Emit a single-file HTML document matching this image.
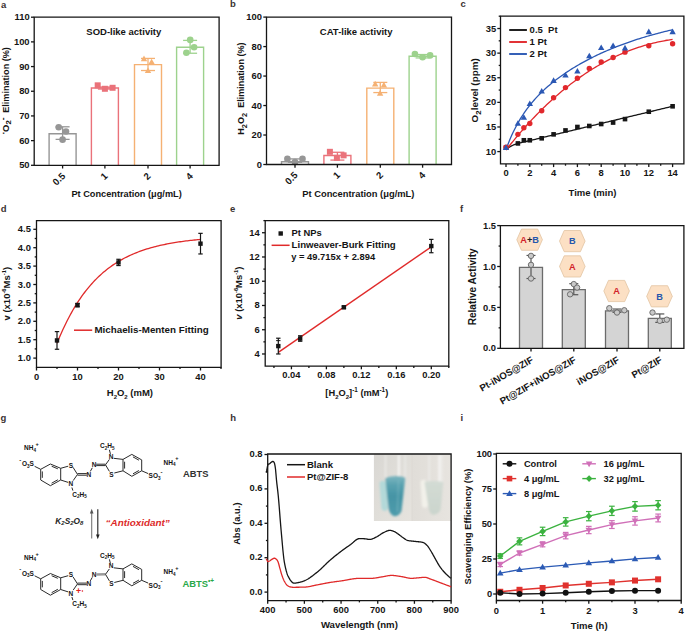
<!DOCTYPE html>
<html><head><meta charset="utf-8"><style>
html,body{margin:0;padding:0;background:#fff;width:685px;height:632px;overflow:hidden;}
svg{display:block;}
text{font-family:"Liberation Sans",sans-serif;}
</style></head><body>
<svg width="685" height="632" viewBox="0 0 685 632">
<rect width="685" height="632" fill="#fff"/>
<text x="1.00" y="7.50" font-size="9.5" font-weight="bold" text-anchor="start" fill="#3a3232" >a</text>
<text x="230.00" y="7.00" font-size="9.5" font-weight="bold" text-anchor="start" fill="#3a3232" >b</text>
<text x="460.50" y="7.20" font-size="9.5" font-weight="bold" text-anchor="start" fill="#3a3232" >c</text>
<text x="0.80" y="212.00" font-size="9.5" font-weight="bold" text-anchor="start" fill="#3a3232" >d</text>
<text x="230.00" y="212.20" font-size="9.5" font-weight="bold" text-anchor="start" fill="#3a3232" >e</text>
<text x="460.00" y="212.00" font-size="9.5" font-weight="bold" text-anchor="start" fill="#3a3232" >f</text>
<text x="0.50" y="421.00" font-size="9.5" font-weight="bold" text-anchor="start" fill="#3a3232" >g</text>
<text x="230.20" y="421.20" font-size="9.5" font-weight="bold" text-anchor="start" fill="#3a3232" >h</text>
<text x="460.60" y="421.00" font-size="9.5" font-weight="bold" text-anchor="start" fill="#3a3232" >i</text>
<line x1="31.00" y1="165.30" x2="34.20" y2="165.30" stroke="#151515" stroke-width="1.3" />
<text x="29.60" y="168.40" font-size="9.4" font-weight="bold" text-anchor="end" fill="#151515" >50</text>
<line x1="31.00" y1="140.62" x2="34.20" y2="140.62" stroke="#151515" stroke-width="1.3" />
<text x="29.60" y="143.72" font-size="9.4" font-weight="bold" text-anchor="end" fill="#151515" >60</text>
<line x1="31.00" y1="115.93" x2="34.20" y2="115.93" stroke="#151515" stroke-width="1.3" />
<text x="29.60" y="119.03" font-size="9.4" font-weight="bold" text-anchor="end" fill="#151515" >70</text>
<line x1="31.00" y1="91.25" x2="34.20" y2="91.25" stroke="#151515" stroke-width="1.3" />
<text x="29.60" y="94.35" font-size="9.4" font-weight="bold" text-anchor="end" fill="#151515" >80</text>
<line x1="31.00" y1="66.57" x2="34.20" y2="66.57" stroke="#151515" stroke-width="1.3" />
<text x="29.60" y="69.67" font-size="9.4" font-weight="bold" text-anchor="end" fill="#151515" >90</text>
<line x1="31.00" y1="41.88" x2="34.20" y2="41.88" stroke="#151515" stroke-width="1.3" />
<text x="29.60" y="44.98" font-size="9.4" font-weight="bold" text-anchor="end" fill="#151515" >100</text>
<line x1="31.00" y1="17.20" x2="34.20" y2="17.20" stroke="#151515" stroke-width="1.3" />
<text x="29.60" y="20.30" font-size="9.4" font-weight="bold" text-anchor="end" fill="#151515" >110</text>
<path d="M49.10,165.30 V133.71 H76.10 V165.30" fill="#fff" stroke="#969696" stroke-width="1.4"/>
<path d="M91.40,165.30 V88.04 H118.40 V165.30" fill="#fff" stroke="#ea727a" stroke-width="1.4"/>
<path d="M134.50,165.30 V64.59 H161.50 V165.30" fill="#fff" stroke="#f5b173" stroke-width="1.4"/>
<path d="M176.60,165.30 V47.31 H203.60 V165.30" fill="#fff" stroke="#9dd28d" stroke-width="1.4"/>
<line x1="62.60" y1="139.38" x2="62.60" y2="126.79" stroke="#969696" stroke-width="1.3" />
<line x1="55.60" y1="139.38" x2="69.60" y2="139.38" stroke="#969696" stroke-width="1.3" />
<line x1="55.60" y1="126.79" x2="69.60" y2="126.79" stroke="#969696" stroke-width="1.3" />
<circle cx="58.70" cy="127.29" r="3.30" fill="#969696" stroke="none" stroke-width="0"/>
<circle cx="66.00" cy="131.48" r="3.30" fill="#969696" stroke="none" stroke-width="0"/>
<circle cx="62.60" cy="139.63" r="3.30" fill="#969696" stroke="none" stroke-width="0"/>
<line x1="104.90" y1="89.03" x2="104.90" y2="87.05" stroke="#ea727a" stroke-width="1.3" />
<line x1="97.90" y1="89.03" x2="111.90" y2="89.03" stroke="#ea727a" stroke-width="1.3" />
<line x1="97.90" y1="87.05" x2="111.90" y2="87.05" stroke="#ea727a" stroke-width="1.3" />
<rect x="94.70" y="82.33" width="6.00" height="6.00" fill="#ea727a"/>
<rect x="101.90" y="85.78" width="6.00" height="6.00" fill="#ea727a"/>
<rect x="109.60" y="84.79" width="6.00" height="6.00" fill="#ea727a"/>
<line x1="148.00" y1="70.52" x2="148.00" y2="58.42" stroke="#f5b173" stroke-width="1.3" />
<line x1="141.00" y1="70.52" x2="155.00" y2="70.52" stroke="#f5b173" stroke-width="1.3" />
<line x1="141.00" y1="58.42" x2="155.00" y2="58.42" stroke="#f5b173" stroke-width="1.3" />
<polygon points="144.00,55.57 140.80,61.14 147.20,61.14" fill="#f5b173"/>
<polygon points="151.60,58.78 148.40,64.35 154.80,64.35" fill="#f5b173"/>
<polygon points="148.00,67.55 144.80,73.11 151.20,73.11" fill="#f5b173"/>
<line x1="190.10" y1="53.24" x2="190.10" y2="40.40" stroke="#9dd28d" stroke-width="1.3" />
<line x1="183.10" y1="53.24" x2="197.10" y2="53.24" stroke="#9dd28d" stroke-width="1.3" />
<line x1="183.10" y1="40.40" x2="197.10" y2="40.40" stroke="#9dd28d" stroke-width="1.3" />
<circle cx="190.20" cy="39.91" r="3.30" fill="#9dd28d" stroke="none" stroke-width="0"/>
<circle cx="194.10" cy="47.19" r="3.30" fill="#9dd28d" stroke="none" stroke-width="0"/>
<circle cx="186.40" cy="52.74" r="3.30" fill="#9dd28d" stroke="none" stroke-width="0"/>
<path d="M34.20,17.20 H219.10 V165.30 H34.20 Z" fill="none" stroke="#151515" stroke-width="1.3"/>
<line x1="62.60" y1="165.30" x2="62.60" y2="168.50" stroke="#151515" stroke-width="1.3" />
<text transform="translate(66.00,176.60) rotate(-45)" font-size="9.6" font-weight="bold" text-anchor="end" fill="#151515">0.5</text>
<line x1="104.90" y1="165.30" x2="104.90" y2="168.50" stroke="#151515" stroke-width="1.3" />
<text transform="translate(108.30,176.60) rotate(-45)" font-size="9.6" font-weight="bold" text-anchor="end" fill="#151515">1</text>
<line x1="148.00" y1="165.30" x2="148.00" y2="168.50" stroke="#151515" stroke-width="1.3" />
<text transform="translate(151.40,176.60) rotate(-45)" font-size="9.6" font-weight="bold" text-anchor="end" fill="#151515">2</text>
<line x1="190.10" y1="165.30" x2="190.10" y2="168.50" stroke="#151515" stroke-width="1.3" />
<text transform="translate(193.50,176.60) rotate(-45)" font-size="9.6" font-weight="bold" text-anchor="end" fill="#151515">4</text>
<text x="126.60" y="196.60" font-size="9.2" font-weight="bold" text-anchor="middle" fill="#151515" >Pt Concentration (μg/mL)</text>
<text x="123.80" y="34.90" font-size="9.5" font-weight="bold" text-anchor="middle" fill="#151515" >SOD-like activity</text>
<text transform="translate(9.2,134.4) rotate(-90)" font-size="9.5" font-weight="bold" fill="#151515"><tspan x="0" y="-2.0">·</tspan><tspan x="2.4" y="0">O</tspan><tspan font-size="7.8" y="2.0">2</tspan><tspan font-size="8.5" x="14.2" y="-3.6">-</tspan><tspan x="21.6" y="0" font-size="9.1">Elimination (%)</tspan></text>
<line x1="263.30" y1="164.50" x2="266.50" y2="164.50" stroke="#151515" stroke-width="1.3" />
<text x="261.90" y="167.60" font-size="9.4" font-weight="bold" text-anchor="end" fill="#151515" >0</text>
<line x1="263.30" y1="135.02" x2="266.50" y2="135.02" stroke="#151515" stroke-width="1.3" />
<text x="261.90" y="138.12" font-size="9.4" font-weight="bold" text-anchor="end" fill="#151515" >20</text>
<line x1="263.30" y1="105.54" x2="266.50" y2="105.54" stroke="#151515" stroke-width="1.3" />
<text x="261.90" y="108.64" font-size="9.4" font-weight="bold" text-anchor="end" fill="#151515" >40</text>
<line x1="263.30" y1="76.06" x2="266.50" y2="76.06" stroke="#151515" stroke-width="1.3" />
<text x="261.90" y="79.16" font-size="9.4" font-weight="bold" text-anchor="end" fill="#151515" >60</text>
<line x1="263.30" y1="46.58" x2="266.50" y2="46.58" stroke="#151515" stroke-width="1.3" />
<text x="261.90" y="49.68" font-size="9.4" font-weight="bold" text-anchor="end" fill="#151515" >80</text>
<line x1="263.30" y1="17.10" x2="266.50" y2="17.10" stroke="#151515" stroke-width="1.3" />
<text x="261.90" y="20.20" font-size="9.4" font-weight="bold" text-anchor="end" fill="#151515" >100</text>
<path d="M281.50,164.50 V161.70 H308.50 V164.50" fill="#fff" stroke="#969696" stroke-width="1.4"/>
<path d="M323.90,164.50 V155.51 H350.90 V164.50" fill="#fff" stroke="#ea727a" stroke-width="1.4"/>
<path d="M366.80,164.50 V88.15 H393.80 V164.50" fill="#fff" stroke="#f5b173" stroke-width="1.4"/>
<path d="M409.10,164.50 V56.31 H436.10 V164.50" fill="#fff" stroke="#9dd28d" stroke-width="1.4"/>
<line x1="295.00" y1="162.29" x2="295.00" y2="158.90" stroke="#969696" stroke-width="1.3" />
<line x1="288.00" y1="162.29" x2="302.00" y2="162.29" stroke="#969696" stroke-width="1.3" />
<line x1="288.00" y1="158.90" x2="302.00" y2="158.90" stroke="#969696" stroke-width="1.3" />
<circle cx="287.40" cy="158.90" r="3.30" fill="#969696" stroke="none" stroke-width="0"/>
<circle cx="295.00" cy="161.99" r="3.30" fill="#969696" stroke="none" stroke-width="0"/>
<circle cx="302.50" cy="158.90" r="3.30" fill="#969696" stroke="none" stroke-width="0"/>
<line x1="337.40" y1="160.08" x2="337.40" y2="152.27" stroke="#ea727a" stroke-width="1.3" />
<line x1="330.40" y1="160.08" x2="344.40" y2="160.08" stroke="#ea727a" stroke-width="1.3" />
<line x1="330.40" y1="152.27" x2="344.40" y2="152.27" stroke="#ea727a" stroke-width="1.3" />
<rect x="326.90" y="148.82" width="6.00" height="6.00" fill="#ea727a"/>
<rect x="333.90" y="154.87" width="6.00" height="6.00" fill="#ea727a"/>
<rect x="340.60" y="152.36" width="6.00" height="6.00" fill="#ea727a"/>
<line x1="380.30" y1="92.57" x2="380.30" y2="82.40" stroke="#f5b173" stroke-width="1.3" />
<line x1="373.30" y1="92.57" x2="387.30" y2="92.57" stroke="#f5b173" stroke-width="1.3" />
<line x1="373.30" y1="82.40" x2="387.30" y2="82.40" stroke="#f5b173" stroke-width="1.3" />
<polygon points="375.20,80.83 372.00,86.39 378.40,86.39" fill="#f5b173"/>
<polygon points="383.90,81.86 380.70,87.43 387.10,87.43" fill="#f5b173"/>
<polygon points="380.10,90.11 376.90,95.68 383.30,95.68" fill="#f5b173"/>
<line x1="422.60" y1="57.93" x2="422.60" y2="54.54" stroke="#9dd28d" stroke-width="1.3" />
<line x1="415.60" y1="57.93" x2="429.60" y2="57.93" stroke="#9dd28d" stroke-width="1.3" />
<line x1="415.60" y1="54.54" x2="429.60" y2="54.54" stroke="#9dd28d" stroke-width="1.3" />
<circle cx="414.90" cy="53.95" r="3.30" fill="#9dd28d" stroke="none" stroke-width="0"/>
<circle cx="422.60" cy="57.19" r="3.30" fill="#9dd28d" stroke="none" stroke-width="0"/>
<circle cx="430.10" cy="55.42" r="3.30" fill="#9dd28d" stroke="none" stroke-width="0"/>
<path d="M266.50,17.10 H451.50 V164.50 H266.50 Z" fill="none" stroke="#151515" stroke-width="1.3"/>
<line x1="295.00" y1="164.50" x2="295.00" y2="167.70" stroke="#151515" stroke-width="1.3" />
<text transform="translate(298.40,175.80) rotate(-45)" font-size="9.6" font-weight="bold" text-anchor="end" fill="#151515">0.5</text>
<line x1="337.40" y1="164.50" x2="337.40" y2="167.70" stroke="#151515" stroke-width="1.3" />
<text transform="translate(340.80,175.80) rotate(-45)" font-size="9.6" font-weight="bold" text-anchor="end" fill="#151515">1</text>
<line x1="380.30" y1="164.50" x2="380.30" y2="167.70" stroke="#151515" stroke-width="1.3" />
<text transform="translate(383.70,175.80) rotate(-45)" font-size="9.6" font-weight="bold" text-anchor="end" fill="#151515">2</text>
<line x1="422.60" y1="164.50" x2="422.60" y2="167.70" stroke="#151515" stroke-width="1.3" />
<text transform="translate(426.00,175.80) rotate(-45)" font-size="9.6" font-weight="bold" text-anchor="end" fill="#151515">4</text>
<text x="358.30" y="196.50" font-size="9.35" font-weight="bold" text-anchor="middle" fill="#151515" >Pt Concentration (μg/mL)</text>
<text x="356.20" y="34.90" font-size="9.5" font-weight="bold" text-anchor="middle" fill="#151515" >CAT-like activity</text>
<text transform="translate(244.3,88.6) rotate(-90)" font-size="9.05" font-weight="bold" text-anchor="middle" fill="#151515">H<tspan font-size="7.4" dy="2.2">2</tspan><tspan dy="-2.2">O</tspan><tspan font-size="7.4" dy="2.2">2</tspan><tspan dy="-2.2">&#160; Elimination (%)</tspan></text>
<path d="M500.50,16.20 H683.90 V163.90 H500.50 Z" fill="none" stroke="#151515" stroke-width="1.3"/>
<line x1="497.30" y1="151.59" x2="500.50" y2="151.59" stroke="#151515" stroke-width="1.3" />
<text x="496.20" y="154.69" font-size="9.4" font-weight="bold" text-anchor="end" fill="#151515" >10</text>
<line x1="498.70" y1="139.28" x2="500.50" y2="139.28" stroke="#151515" stroke-width="1.3" />
<line x1="497.30" y1="126.98" x2="500.50" y2="126.98" stroke="#151515" stroke-width="1.3" />
<text x="496.20" y="130.08" font-size="9.4" font-weight="bold" text-anchor="end" fill="#151515" >15</text>
<line x1="498.70" y1="114.67" x2="500.50" y2="114.67" stroke="#151515" stroke-width="1.3" />
<line x1="497.30" y1="102.36" x2="500.50" y2="102.36" stroke="#151515" stroke-width="1.3" />
<text x="496.20" y="105.46" font-size="9.4" font-weight="bold" text-anchor="end" fill="#151515" >20</text>
<line x1="498.70" y1="90.06" x2="500.50" y2="90.06" stroke="#151515" stroke-width="1.3" />
<line x1="497.30" y1="77.75" x2="500.50" y2="77.75" stroke="#151515" stroke-width="1.3" />
<text x="496.20" y="80.85" font-size="9.4" font-weight="bold" text-anchor="end" fill="#151515" >25</text>
<line x1="498.70" y1="65.44" x2="500.50" y2="65.44" stroke="#151515" stroke-width="1.3" />
<line x1="497.30" y1="53.13" x2="500.50" y2="53.13" stroke="#151515" stroke-width="1.3" />
<text x="496.20" y="56.23" font-size="9.4" font-weight="bold" text-anchor="end" fill="#151515" >30</text>
<line x1="498.70" y1="40.83" x2="500.50" y2="40.83" stroke="#151515" stroke-width="1.3" />
<line x1="497.30" y1="28.52" x2="500.50" y2="28.52" stroke="#151515" stroke-width="1.3" />
<text x="496.20" y="31.62" font-size="9.4" font-weight="bold" text-anchor="end" fill="#151515" >35</text>
<line x1="498.70" y1="16.21" x2="500.50" y2="16.21" stroke="#151515" stroke-width="1.3" />
<line x1="506.00" y1="163.90" x2="506.00" y2="167.10" stroke="#151515" stroke-width="1.3" />
<text x="506.00" y="175.90" font-size="9.4" font-weight="bold" text-anchor="middle" fill="#151515" >0</text>
<line x1="517.90" y1="163.90" x2="517.90" y2="165.70" stroke="#151515" stroke-width="1.3" />
<line x1="529.80" y1="163.90" x2="529.80" y2="167.10" stroke="#151515" stroke-width="1.3" />
<text x="529.80" y="175.90" font-size="9.4" font-weight="bold" text-anchor="middle" fill="#151515" >2</text>
<line x1="541.70" y1="163.90" x2="541.70" y2="165.70" stroke="#151515" stroke-width="1.3" />
<line x1="553.60" y1="163.90" x2="553.60" y2="167.10" stroke="#151515" stroke-width="1.3" />
<text x="553.60" y="175.90" font-size="9.4" font-weight="bold" text-anchor="middle" fill="#151515" >4</text>
<line x1="565.50" y1="163.90" x2="565.50" y2="165.70" stroke="#151515" stroke-width="1.3" />
<line x1="577.40" y1="163.90" x2="577.40" y2="167.10" stroke="#151515" stroke-width="1.3" />
<text x="577.40" y="175.90" font-size="9.4" font-weight="bold" text-anchor="middle" fill="#151515" >6</text>
<line x1="589.30" y1="163.90" x2="589.30" y2="165.70" stroke="#151515" stroke-width="1.3" />
<line x1="601.20" y1="163.90" x2="601.20" y2="167.10" stroke="#151515" stroke-width="1.3" />
<text x="601.20" y="175.90" font-size="9.4" font-weight="bold" text-anchor="middle" fill="#151515" >8</text>
<line x1="613.10" y1="163.90" x2="613.10" y2="165.70" stroke="#151515" stroke-width="1.3" />
<line x1="625.00" y1="163.90" x2="625.00" y2="167.10" stroke="#151515" stroke-width="1.3" />
<text x="625.00" y="175.90" font-size="9.4" font-weight="bold" text-anchor="middle" fill="#151515" >10</text>
<line x1="636.90" y1="163.90" x2="636.90" y2="165.70" stroke="#151515" stroke-width="1.3" />
<line x1="648.80" y1="163.90" x2="648.80" y2="167.10" stroke="#151515" stroke-width="1.3" />
<text x="648.80" y="175.90" font-size="9.4" font-weight="bold" text-anchor="middle" fill="#151515" >12</text>
<line x1="660.70" y1="163.90" x2="660.70" y2="165.70" stroke="#151515" stroke-width="1.3" />
<line x1="672.60" y1="163.90" x2="672.60" y2="167.10" stroke="#151515" stroke-width="1.3" />
<text x="672.60" y="175.90" font-size="9.4" font-weight="bold" text-anchor="middle" fill="#151515" >14</text>
<polyline points="506.00,149.38 507.40,148.37 508.80,147.43 510.20,146.59 511.60,145.85 513.00,145.22 514.40,144.65 515.80,144.14 517.20,143.68 518.60,143.26 520.00,142.88 521.40,142.53 522.80,142.19 524.20,141.87 525.60,141.56 527.00,141.25 528.40,140.94 529.80,140.61 531.20,140.27 532.60,139.94 534.00,139.60 535.40,139.26 536.80,138.93 538.20,138.59 539.60,138.25 541.00,137.92 542.40,137.58 543.80,137.24 545.20,136.91 546.60,136.57 548.00,136.23 549.40,135.90 550.80,135.56 552.20,135.23 553.60,134.89 555.00,134.55 556.40,134.22 557.80,133.88 559.20,133.54 560.60,133.21 562.00,132.87 563.40,132.53 564.80,132.20 566.20,131.86 567.60,131.52 569.00,131.19 570.40,130.85 571.80,130.51 573.20,130.18 574.60,129.84 576.00,129.50 577.40,129.17 578.80,128.83 580.20,128.50 581.60,128.16 583.00,127.82 584.40,127.49 585.80,127.15 587.20,126.81 588.60,126.48 590.00,126.14 591.40,125.80 592.80,125.47 594.20,125.13 595.60,124.79 597.00,124.46 598.40,124.12 599.80,123.78 601.20,123.45 602.60,123.11 604.00,122.77 605.40,122.44 606.80,122.10 608.20,121.77 609.60,121.43 611.00,121.09 612.40,120.76 613.80,120.42 615.20,120.08 616.60,119.75 618.00,119.41 619.40,119.07 620.80,118.74 622.20,118.40 623.60,118.06 625.00,117.73 626.40,117.39 627.80,117.05 629.20,116.72 630.60,116.38 632.00,116.04 633.40,115.71 634.80,115.37 636.20,115.04 637.60,114.70 639.00,114.36 640.40,114.03 641.80,113.69 643.20,113.35 644.60,113.02 646.00,112.68 647.40,112.34 648.80,112.01 650.20,111.67 651.60,111.33 653.00,111.00 654.40,110.66 655.80,110.32 657.20,109.99 658.60,109.65 660.00,109.31 661.40,108.98 662.80,108.64 664.20,108.31 665.60,107.97 667.00,107.63 668.40,107.30 669.80,106.96 671.20,106.62 672.60,106.29" fill="none" stroke="#161616" stroke-width="1.3" stroke-linejoin="round" />
<polyline points="506.00,150.06 507.40,148.27 508.80,146.50 510.20,144.75 511.60,143.01 513.00,141.29 514.40,139.58 515.80,137.90 517.20,136.22 518.60,134.57 520.00,132.93 521.40,131.31 522.80,129.70 524.20,128.11 525.60,126.54 527.00,124.98 528.40,123.44 529.80,121.91 531.20,120.40 532.60,118.91 534.00,117.43 535.40,115.97 536.80,114.52 538.20,113.09 539.60,111.67 541.00,110.27 542.40,108.89 543.80,107.52 545.20,106.16 546.60,104.83 548.00,103.50 549.40,102.19 550.80,100.90 552.20,99.62 553.60,98.36 555.00,97.11 556.40,95.88 557.80,94.66 559.20,93.45 560.60,92.26 562.00,91.09 563.40,89.93 564.80,88.78 566.20,87.65 567.60,86.53 569.00,85.43 570.40,84.34 571.80,83.27 573.20,82.21 574.60,81.16 576.00,80.13 577.40,79.11 578.80,78.11 580.20,77.12 581.60,76.14 583.00,75.18 584.40,74.23 585.80,73.29 587.20,72.37 588.60,71.46 590.00,70.57 591.40,69.69 592.80,68.82 594.20,67.96 595.60,67.12 597.00,66.29 598.40,65.48 599.80,64.67 601.20,63.88 602.60,63.11 604.00,62.34 605.40,61.59 606.80,60.85 608.20,60.13 609.60,59.41 611.00,58.71 612.40,58.02 613.80,57.35 615.20,56.68 616.60,56.03 618.00,55.39 619.40,54.77 620.80,54.15 622.20,53.55 623.60,52.96 625.00,52.38 626.40,51.81 627.80,51.26 629.20,50.71 630.60,50.18 632.00,49.66 633.40,49.15 634.80,48.65 636.20,48.17 637.60,47.69 639.00,47.23 640.40,46.78 641.80,46.34 643.20,45.91 644.60,45.49 646.00,45.09 647.40,44.69 648.80,44.30 650.20,43.93 651.60,43.57 653.00,43.21 654.40,42.87 655.80,42.54 657.20,42.22 658.60,41.91 660.00,41.61 661.40,41.32 662.80,41.04 664.20,40.77 665.60,40.51 667.00,40.26 668.40,40.03 669.80,39.80 671.20,39.58 672.60,39.37" fill="none" stroke="#e1282c" stroke-width="1.3" stroke-linejoin="round" />
<polyline points="506.00,149.52 507.40,145.74 508.80,142.17 510.20,138.80 511.60,135.60 513.00,132.56 514.40,129.68 515.80,126.93 517.20,124.32 518.60,121.83 520.00,119.44 521.40,117.16 522.80,114.98 524.20,112.88 525.60,110.87 527.00,108.93 528.40,107.07 529.80,105.27 531.20,103.53 532.60,101.86 534.00,100.23 535.40,98.66 536.80,97.14 538.20,95.66 539.60,94.22 541.00,92.82 542.40,91.46 543.80,90.14 545.20,88.85 546.60,87.59 548.00,86.36 549.40,85.15 550.80,83.98 552.20,82.83 553.60,81.71 555.00,80.61 556.40,79.53 557.80,78.47 559.20,77.44 560.60,76.42 562.00,75.42 563.40,74.44 564.80,73.48 566.20,72.54 567.60,71.61 569.00,70.70 570.40,69.80 571.80,68.92 573.20,68.05 574.60,67.20 576.00,66.36 577.40,65.53 578.80,64.71 580.20,63.91 581.60,63.12 583.00,62.35 584.40,61.58 585.80,60.83 587.20,60.08 588.60,59.35 590.00,58.63 591.40,57.92 592.80,57.22 594.20,56.52 595.60,55.84 597.00,55.17 598.40,54.51 599.80,53.86 601.20,53.21 602.60,52.58 604.00,51.95 605.40,51.34 606.80,50.73 608.20,50.13 609.60,49.53 611.00,48.95 612.40,48.37 613.80,47.81 615.20,47.25 616.60,46.69 618.00,46.15 619.40,45.61 620.80,45.08 622.20,44.56 623.60,44.04 625.00,43.53 626.40,43.03 627.80,42.53 629.20,42.04 630.60,41.56 632.00,41.08 633.40,40.62 634.80,40.15 636.20,39.69 637.60,39.24 639.00,38.80 640.40,38.36 641.80,37.93 643.20,37.50 644.60,37.08 646.00,36.66 647.40,36.25 648.80,35.85 650.20,35.45 651.60,35.05 653.00,34.66 654.40,34.28 655.80,33.90 657.20,33.53 658.60,33.16 660.00,32.79 661.40,32.44 662.80,32.08 664.20,31.73 665.60,31.39 667.00,31.05 668.40,30.71 669.80,30.38 671.20,30.05 672.60,29.73" fill="none" stroke="#2b58b4" stroke-width="1.3" stroke-linejoin="round" />
<rect x="503.70" y="145.35" width="4.60" height="4.60" fill="#161616"/>
<rect x="515.60" y="141.12" width="4.60" height="4.60" fill="#161616"/>
<rect x="521.55" y="137.97" width="4.60" height="4.60" fill="#161616"/>
<rect x="527.50" y="137.97" width="4.60" height="4.60" fill="#161616"/>
<rect x="539.40" y="136.00" width="4.60" height="4.60" fill="#161616"/>
<rect x="551.30" y="132.06" width="4.60" height="4.60" fill="#161616"/>
<rect x="563.20" y="128.12" width="4.60" height="4.60" fill="#161616"/>
<rect x="575.10" y="124.68" width="4.60" height="4.60" fill="#161616"/>
<rect x="587.00" y="123.69" width="4.60" height="4.60" fill="#161616"/>
<rect x="598.90" y="121.72" width="4.60" height="4.60" fill="#161616"/>
<rect x="610.80" y="120.25" width="4.60" height="4.60" fill="#161616"/>
<rect x="622.70" y="116.80" width="4.60" height="4.60" fill="#161616"/>
<rect x="646.50" y="109.42" width="4.60" height="4.60" fill="#161616"/>
<rect x="670.30" y="104.00" width="4.60" height="4.60" fill="#161616"/>
<circle cx="506.00" cy="147.16" r="2.70" fill="#e1282c" stroke="none" stroke-width="0"/>
<circle cx="517.90" cy="134.36" r="2.70" fill="#e1282c" stroke="none" stroke-width="0"/>
<circle cx="523.85" cy="127.77" r="2.70" fill="#e1282c" stroke="none" stroke-width="0"/>
<circle cx="529.80" cy="123.53" r="2.70" fill="#e1282c" stroke="none" stroke-width="0"/>
<circle cx="541.70" cy="110.73" r="2.70" fill="#e1282c" stroke="none" stroke-width="0"/>
<circle cx="553.60" cy="97.69" r="2.70" fill="#e1282c" stroke="none" stroke-width="0"/>
<circle cx="565.50" cy="87.59" r="2.70" fill="#e1282c" stroke="none" stroke-width="0"/>
<circle cx="577.40" cy="78.24" r="2.70" fill="#e1282c" stroke="none" stroke-width="0"/>
<circle cx="589.30" cy="68.39" r="2.70" fill="#e1282c" stroke="none" stroke-width="0"/>
<circle cx="601.20" cy="61.99" r="2.70" fill="#e1282c" stroke="none" stroke-width="0"/>
<circle cx="613.10" cy="57.56" r="2.70" fill="#e1282c" stroke="none" stroke-width="0"/>
<circle cx="625.00" cy="52.15" r="2.70" fill="#e1282c" stroke="none" stroke-width="0"/>
<circle cx="648.80" cy="45.75" r="2.70" fill="#e1282c" stroke="none" stroke-width="0"/>
<circle cx="672.60" cy="43.78" r="2.70" fill="#e1282c" stroke="none" stroke-width="0"/>
<polygon points="506.00,144.31 502.80,149.88 509.20,149.88" fill="#2b58b4"/>
<polygon points="517.90,120.19 514.70,125.76 521.10,125.76" fill="#2b58b4"/>
<polygon points="523.85,114.28 520.65,119.85 527.05,119.85" fill="#2b58b4"/>
<polygon points="529.80,100.50 526.60,106.07 533.00,106.07" fill="#2b58b4"/>
<polygon points="541.70,87.94 538.50,93.51 544.90,93.51" fill="#2b58b4"/>
<polygon points="553.60,77.36 550.40,82.93 556.80,82.93" fill="#2b58b4"/>
<polygon points="565.50,71.95 562.30,77.51 568.70,77.51" fill="#2b58b4"/>
<polygon points="577.40,68.01 574.20,73.57 580.60,73.57" fill="#2b58b4"/>
<polygon points="589.30,52.75 586.10,58.31 592.50,58.31" fill="#2b58b4"/>
<polygon points="601.20,44.38 598.00,49.94 604.40,49.94" fill="#2b58b4"/>
<polygon points="613.10,42.41 609.90,47.98 616.30,47.98" fill="#2b58b4"/>
<polygon points="625.00,44.87 621.80,50.44 628.20,50.44" fill="#2b58b4"/>
<polygon points="648.80,28.62 645.60,34.19 652.00,34.19" fill="#2b58b4"/>
<polygon points="672.60,28.62 669.40,34.19 675.80,34.19" fill="#2b58b4"/>
<line x1="509.20" y1="30.00" x2="526.90" y2="30.00" stroke="#161616" stroke-width="1.9" />
<text x="529.60" y="33.30" font-size="9.5" font-weight="bold" text-anchor="start" fill="#151515" >0.5&#160; Pt</text>
<line x1="509.20" y1="42.00" x2="526.90" y2="42.00" stroke="#e1282c" stroke-width="1.9" />
<text x="529.60" y="45.30" font-size="9.5" font-weight="bold" text-anchor="start" fill="#151515" >1 Pt</text>
<line x1="509.20" y1="54.00" x2="526.90" y2="54.00" stroke="#2b58b4" stroke-width="1.9" />
<text x="529.60" y="57.30" font-size="9.5" font-weight="bold" text-anchor="start" fill="#151515" >2 Pt</text>
<text x="592.50" y="196.40" font-size="9.5" font-weight="bold" text-anchor="middle" fill="#151515" >Time (min)</text>
<text transform="translate(478.3,90.3) rotate(-90)" font-size="9.9" font-weight="bold" text-anchor="middle" fill="#151515">O<tspan font-size="7.8" dy="2.2">2</tspan><tspan dy="-2.2">level (ppm)</tspan></text>
<path d="M36.50,220.70 H221.10 V367.30 H36.50 Z" fill="none" stroke="#151515" stroke-width="1.3"/>
<line x1="33.30" y1="358.10" x2="36.50" y2="358.10" stroke="#151515" stroke-width="1.3" />
<text x="30.90" y="361.20" font-size="9.4" font-weight="bold" text-anchor="end" fill="#151515" >1.0</text>
<line x1="34.70" y1="348.90" x2="36.50" y2="348.90" stroke="#151515" stroke-width="1.3" />
<line x1="33.30" y1="339.70" x2="36.50" y2="339.70" stroke="#151515" stroke-width="1.3" />
<text x="30.90" y="342.80" font-size="9.4" font-weight="bold" text-anchor="end" fill="#151515" >1.5</text>
<line x1="34.70" y1="330.50" x2="36.50" y2="330.50" stroke="#151515" stroke-width="1.3" />
<line x1="33.30" y1="321.30" x2="36.50" y2="321.30" stroke="#151515" stroke-width="1.3" />
<text x="30.90" y="324.40" font-size="9.4" font-weight="bold" text-anchor="end" fill="#151515" >2.0</text>
<line x1="34.70" y1="312.10" x2="36.50" y2="312.10" stroke="#151515" stroke-width="1.3" />
<line x1="33.30" y1="302.90" x2="36.50" y2="302.90" stroke="#151515" stroke-width="1.3" />
<text x="30.90" y="306.00" font-size="9.4" font-weight="bold" text-anchor="end" fill="#151515" >2.5</text>
<line x1="34.70" y1="293.70" x2="36.50" y2="293.70" stroke="#151515" stroke-width="1.3" />
<line x1="33.30" y1="284.50" x2="36.50" y2="284.50" stroke="#151515" stroke-width="1.3" />
<text x="30.90" y="287.60" font-size="9.4" font-weight="bold" text-anchor="end" fill="#151515" >3.0</text>
<line x1="34.70" y1="275.30" x2="36.50" y2="275.30" stroke="#151515" stroke-width="1.3" />
<line x1="33.30" y1="266.10" x2="36.50" y2="266.10" stroke="#151515" stroke-width="1.3" />
<text x="30.90" y="269.20" font-size="9.4" font-weight="bold" text-anchor="end" fill="#151515" >3.5</text>
<line x1="34.70" y1="256.90" x2="36.50" y2="256.90" stroke="#151515" stroke-width="1.3" />
<line x1="33.30" y1="247.70" x2="36.50" y2="247.70" stroke="#151515" stroke-width="1.3" />
<text x="30.90" y="250.80" font-size="9.4" font-weight="bold" text-anchor="end" fill="#151515" >4.0</text>
<line x1="34.70" y1="238.50" x2="36.50" y2="238.50" stroke="#151515" stroke-width="1.3" />
<line x1="33.30" y1="229.30" x2="36.50" y2="229.30" stroke="#151515" stroke-width="1.3" />
<text x="30.90" y="232.40" font-size="9.4" font-weight="bold" text-anchor="end" fill="#151515" >4.5</text>
<line x1="36.50" y1="367.30" x2="36.50" y2="370.50" stroke="#151515" stroke-width="1.3" />
<text x="36.50" y="379.70" font-size="9.4" font-weight="bold" text-anchor="middle" fill="#151515" >0</text>
<line x1="57.00" y1="367.30" x2="57.00" y2="369.10" stroke="#151515" stroke-width="1.3" />
<line x1="77.50" y1="367.30" x2="77.50" y2="370.50" stroke="#151515" stroke-width="1.3" />
<text x="77.50" y="379.70" font-size="9.4" font-weight="bold" text-anchor="middle" fill="#151515" >10</text>
<line x1="98.00" y1="367.30" x2="98.00" y2="369.10" stroke="#151515" stroke-width="1.3" />
<line x1="118.50" y1="367.30" x2="118.50" y2="370.50" stroke="#151515" stroke-width="1.3" />
<text x="118.50" y="379.70" font-size="9.4" font-weight="bold" text-anchor="middle" fill="#151515" >20</text>
<line x1="139.00" y1="367.30" x2="139.00" y2="369.10" stroke="#151515" stroke-width="1.3" />
<line x1="159.50" y1="367.30" x2="159.50" y2="370.50" stroke="#151515" stroke-width="1.3" />
<text x="159.50" y="379.70" font-size="9.4" font-weight="bold" text-anchor="middle" fill="#151515" >30</text>
<line x1="180.00" y1="367.30" x2="180.00" y2="369.10" stroke="#151515" stroke-width="1.3" />
<line x1="200.50" y1="367.30" x2="200.50" y2="370.50" stroke="#151515" stroke-width="1.3" />
<text x="200.50" y="379.70" font-size="9.4" font-weight="bold" text-anchor="middle" fill="#151515" >40</text>
<line x1="221.00" y1="367.30" x2="221.00" y2="369.10" stroke="#151515" stroke-width="1.3" />
<polyline points="57.00,343.35 58.45,339.79 59.90,336.34 61.35,333.01 62.80,329.80 64.25,326.68 65.70,323.67 67.15,320.76 68.60,317.95 70.05,315.23 71.49,312.60 72.94,310.05 74.39,307.59 75.84,305.21 77.29,302.91 78.74,300.69 80.19,298.54 81.64,296.46 83.09,294.44 84.54,292.50 85.99,290.62 87.44,288.80 88.89,287.04 90.34,285.34 91.79,283.70 93.24,282.11 94.69,280.57 96.14,279.08 97.59,277.64 99.04,276.25 100.48,274.91 101.93,273.61 103.38,272.35 104.83,271.14 106.28,269.96 107.73,268.83 109.18,267.73 110.63,266.67 112.08,265.64 113.53,264.64 114.98,263.68 116.43,262.75 117.88,261.86 119.33,260.99 120.78,260.15 122.23,259.34 123.68,258.55 125.13,257.79 126.58,257.06 128.03,256.35 129.47,255.66 130.92,255.00 132.37,254.35 133.82,253.73 135.27,253.13 136.72,252.55 138.17,251.99 139.62,251.45 141.07,250.92 142.52,250.42 143.97,249.92 145.42,249.45 146.87,248.99 148.32,248.55 149.77,248.12 151.22,247.70 152.67,247.30 154.12,246.91 155.57,246.54 157.02,246.18 158.46,245.83 159.91,245.49 161.36,245.16 162.81,244.84 164.26,244.53 165.71,244.24 167.16,243.95 168.61,243.67 170.06,243.41 171.51,243.15 172.96,242.90 174.41,242.65 175.86,242.42 177.31,242.19 178.76,241.97 180.21,241.76 181.66,241.56 183.11,241.36 184.56,241.17 186.01,240.98 187.45,240.80 188.90,240.63 190.35,240.46 191.80,240.30 193.25,240.14 194.70,239.99 196.15,239.84 197.60,239.70 199.05,239.57 200.50,239.43" fill="none" stroke="#e02a2a" stroke-width="1.3" stroke-linejoin="round" />
<line x1="57.00" y1="349.27" x2="57.00" y2="331.60" stroke="#151515" stroke-width="1.2" />
<line x1="54.80" y1="349.27" x2="59.20" y2="349.27" stroke="#151515" stroke-width="1.2" />
<line x1="54.80" y1="331.60" x2="59.20" y2="331.60" stroke="#151515" stroke-width="1.2" />
<rect x="54.80" y="338.24" width="4.40" height="4.40" fill="#151515"/>
<line x1="77.50" y1="306.76" x2="77.50" y2="303.45" stroke="#151515" stroke-width="1.2" />
<line x1="75.30" y1="306.76" x2="79.70" y2="306.76" stroke="#151515" stroke-width="1.2" />
<line x1="75.30" y1="303.45" x2="79.70" y2="303.45" stroke="#151515" stroke-width="1.2" />
<rect x="75.30" y="302.91" width="4.40" height="4.40" fill="#151515"/>
<line x1="118.50" y1="265.55" x2="118.50" y2="259.29" stroke="#151515" stroke-width="1.2" />
<line x1="116.30" y1="265.55" x2="120.70" y2="265.55" stroke="#151515" stroke-width="1.2" />
<line x1="116.30" y1="259.29" x2="120.70" y2="259.29" stroke="#151515" stroke-width="1.2" />
<rect x="116.30" y="260.22" width="4.40" height="4.40" fill="#151515"/>
<line x1="200.50" y1="253.96" x2="200.50" y2="233.35" stroke="#151515" stroke-width="1.2" />
<line x1="198.30" y1="253.96" x2="202.70" y2="253.96" stroke="#151515" stroke-width="1.2" />
<line x1="198.30" y1="233.35" x2="202.70" y2="233.35" stroke="#151515" stroke-width="1.2" />
<rect x="198.30" y="241.45" width="4.40" height="4.40" fill="#151515"/>
<line x1="74.00" y1="330.20" x2="92.20" y2="330.20" stroke="#e02a2a" stroke-width="1.5" />
<text x="94.40" y="333.40" font-size="9.8" font-weight="bold" text-anchor="start" fill="#151515" >Michaelis-Menten Fitting</text>
<text x="129.90" y="395.80" font-size="9.5" font-weight="bold" text-anchor="middle" fill="#151515" >H<tspan font-size="6.0" dy="3.3">2</tspan><tspan dy="-3.3">O</tspan><tspan font-size="6.0" dy="3.3">2</tspan><tspan dy="-3.3"> (mM)</tspan></text>
<text transform="translate(10.0,293.7) rotate(-90)" font-size="9.5" font-weight="bold" text-anchor="middle" fill="#151515">v (x10<tspan font-size="5.8" dy="-3.6">-6</tspan><tspan dy="3.6">Ms</tspan><tspan font-size="5.8" dy="-3.6">-1</tspan><tspan dy="3.6">)</tspan></text>
<path d="M265.20,220.60 H448.80 V366.10 H265.20 Z" fill="none" stroke="#151515" stroke-width="1.3"/>
<line x1="262.00" y1="353.98" x2="265.20" y2="353.98" stroke="#151515" stroke-width="1.3" />
<text x="259.80" y="356.98" font-size="9.4" font-weight="bold" text-anchor="end" fill="#151515" >4</text>
<line x1="263.40" y1="341.85" x2="265.20" y2="341.85" stroke="#151515" stroke-width="1.3" />
<line x1="262.00" y1="329.73" x2="265.20" y2="329.73" stroke="#151515" stroke-width="1.3" />
<text x="259.80" y="332.73" font-size="9.4" font-weight="bold" text-anchor="end" fill="#151515" >6</text>
<line x1="263.40" y1="317.60" x2="265.20" y2="317.60" stroke="#151515" stroke-width="1.3" />
<line x1="262.00" y1="305.48" x2="265.20" y2="305.48" stroke="#151515" stroke-width="1.3" />
<text x="259.80" y="308.48" font-size="9.4" font-weight="bold" text-anchor="end" fill="#151515" >8</text>
<line x1="263.40" y1="293.35" x2="265.20" y2="293.35" stroke="#151515" stroke-width="1.3" />
<line x1="262.00" y1="281.23" x2="265.20" y2="281.23" stroke="#151515" stroke-width="1.3" />
<text x="259.80" y="284.23" font-size="9.4" font-weight="bold" text-anchor="end" fill="#151515" >10</text>
<line x1="263.40" y1="269.10" x2="265.20" y2="269.10" stroke="#151515" stroke-width="1.3" />
<line x1="262.00" y1="256.98" x2="265.20" y2="256.98" stroke="#151515" stroke-width="1.3" />
<text x="259.80" y="259.98" font-size="9.4" font-weight="bold" text-anchor="end" fill="#151515" >12</text>
<line x1="263.40" y1="244.85" x2="265.20" y2="244.85" stroke="#151515" stroke-width="1.3" />
<line x1="262.00" y1="232.73" x2="265.20" y2="232.73" stroke="#151515" stroke-width="1.3" />
<text x="259.80" y="235.73" font-size="9.4" font-weight="bold" text-anchor="end" fill="#151515" >14</text>
<line x1="263.40" y1="220.60" x2="265.20" y2="220.60" stroke="#151515" stroke-width="1.3" />
<line x1="273.94" y1="366.10" x2="273.94" y2="367.90" stroke="#151515" stroke-width="1.3" />
<line x1="291.43" y1="366.10" x2="291.43" y2="369.30" stroke="#151515" stroke-width="1.3" />
<text x="291.43" y="377.60" font-size="9.4" font-weight="bold" text-anchor="middle" fill="#151515" >0.04</text>
<line x1="308.91" y1="366.10" x2="308.91" y2="367.90" stroke="#151515" stroke-width="1.3" />
<line x1="326.39" y1="366.10" x2="326.39" y2="369.30" stroke="#151515" stroke-width="1.3" />
<text x="326.39" y="377.60" font-size="9.4" font-weight="bold" text-anchor="middle" fill="#151515" >0.08</text>
<line x1="343.88" y1="366.10" x2="343.88" y2="367.90" stroke="#151515" stroke-width="1.3" />
<line x1="361.36" y1="366.10" x2="361.36" y2="369.30" stroke="#151515" stroke-width="1.3" />
<text x="361.36" y="377.60" font-size="9.4" font-weight="bold" text-anchor="middle" fill="#151515" >0.12</text>
<line x1="378.85" y1="366.10" x2="378.85" y2="367.90" stroke="#151515" stroke-width="1.3" />
<line x1="396.33" y1="366.10" x2="396.33" y2="369.30" stroke="#151515" stroke-width="1.3" />
<text x="396.33" y="377.60" font-size="9.4" font-weight="bold" text-anchor="middle" fill="#151515" >0.16</text>
<line x1="413.81" y1="366.10" x2="413.81" y2="367.90" stroke="#151515" stroke-width="1.3" />
<line x1="431.30" y1="366.10" x2="431.30" y2="369.30" stroke="#151515" stroke-width="1.3" />
<text x="431.30" y="377.60" font-size="9.4" font-weight="bold" text-anchor="middle" fill="#151515" >0.20</text>
<line x1="448.78" y1="366.10" x2="448.78" y2="367.90" stroke="#151515" stroke-width="1.3" />
<line x1="278.31" y1="352.32" x2="431.30" y2="246.83" stroke="#e02a2a" stroke-width="1.4" />
<line x1="278.31" y1="353.98" x2="278.31" y2="338.21" stroke="#151515" stroke-width="1.2" />
<line x1="276.11" y1="353.98" x2="280.51" y2="353.98" stroke="#151515" stroke-width="1.2" />
<line x1="276.11" y1="338.21" x2="280.51" y2="338.21" stroke="#151515" stroke-width="1.2" />
<rect x="276.11" y="343.89" width="4.40" height="4.40" fill="#151515"/>
<line x1="300.17" y1="341.24" x2="300.17" y2="335.79" stroke="#151515" stroke-width="1.2" />
<line x1="297.97" y1="341.24" x2="302.37" y2="341.24" stroke="#151515" stroke-width="1.2" />
<line x1="297.97" y1="335.79" x2="302.37" y2="335.79" stroke="#151515" stroke-width="1.2" />
<rect x="297.97" y="336.38" width="4.40" height="4.40" fill="#151515"/>
<line x1="343.88" y1="308.51" x2="343.88" y2="306.08" stroke="#151515" stroke-width="1.2" />
<line x1="341.68" y1="308.51" x2="346.08" y2="308.51" stroke="#151515" stroke-width="1.2" />
<line x1="341.68" y1="306.08" x2="346.08" y2="306.08" stroke="#151515" stroke-width="1.2" />
<rect x="341.68" y="305.09" width="4.40" height="4.40" fill="#151515"/>
<line x1="431.30" y1="252.73" x2="431.30" y2="239.39" stroke="#151515" stroke-width="1.2" />
<line x1="429.10" y1="252.73" x2="433.50" y2="252.73" stroke="#151515" stroke-width="1.2" />
<line x1="429.10" y1="239.39" x2="433.50" y2="239.39" stroke="#151515" stroke-width="1.2" />
<rect x="429.10" y="243.86" width="4.40" height="4.40" fill="#151515"/>
<line x1="276.11" y1="340.64" x2="280.51" y2="340.64" stroke="#151515" stroke-width="1.0" />
<rect x="278.50" y="231.30" width="4.40" height="4.40" fill="#151515"/>
<text x="291.60" y="236.00" font-size="9.4" font-weight="bold" text-anchor="start" fill="#151515" >Pt NPs</text>
<line x1="271.60" y1="245.30" x2="289.60" y2="245.30" stroke="#e02a2a" stroke-width="1.5" />
<text x="291.60" y="248.30" font-size="9.62" font-weight="bold" text-anchor="start" fill="#151515" >Linweaver-Burk Fitting</text>
<text x="291.20" y="259.60" font-size="9.4" font-weight="bold" text-anchor="start" fill="#151515" >y = 49.715x + 2.894</text>
<text x="356.80" y="395.60" font-size="9.3" font-weight="bold" text-anchor="middle" fill="#151515" >[H<tspan font-size="6.0" dy="3.2">2</tspan><tspan dy="-3.2">O</tspan><tspan font-size="6.0" dy="3.2">2</tspan><tspan dy="-3.2">]</tspan><tspan font-size="6.3" dy="-3.6">-1</tspan><tspan dy="3.6"> (mM</tspan><tspan font-size="6.3" dy="-3.6">-1</tspan><tspan dy="3.6">)</tspan></text>
<text transform="translate(241.5,293.1) rotate(-90)" font-size="9.4" font-weight="bold" text-anchor="middle" fill="#151515"><tspan font-style="italic">v</tspan> (x10<tspan font-size="5.8" dy="-3.6">-6</tspan><tspan dy="3.6">Ms</tspan><tspan font-size="5.8" dy="-3.6">-1</tspan><tspan dy="3.6">)</tspan></text>
<line x1="497.20" y1="348.30" x2="500.40" y2="348.30" stroke="#151515" stroke-width="1.3" />
<text x="496.10" y="351.40" font-size="9.4" font-weight="bold" text-anchor="end" fill="#151515" >0.0</text>
<line x1="498.60" y1="327.85" x2="500.40" y2="327.85" stroke="#151515" stroke-width="1.3" />
<line x1="497.20" y1="307.40" x2="500.40" y2="307.40" stroke="#151515" stroke-width="1.3" />
<text x="496.10" y="310.50" font-size="9.4" font-weight="bold" text-anchor="end" fill="#151515" >0.5</text>
<line x1="498.60" y1="286.95" x2="500.40" y2="286.95" stroke="#151515" stroke-width="1.3" />
<line x1="497.20" y1="266.50" x2="500.40" y2="266.50" stroke="#151515" stroke-width="1.3" />
<text x="496.10" y="269.60" font-size="9.4" font-weight="bold" text-anchor="end" fill="#151515" >1.0</text>
<line x1="498.60" y1="246.05" x2="500.40" y2="246.05" stroke="#151515" stroke-width="1.3" />
<line x1="497.20" y1="225.60" x2="500.40" y2="225.60" stroke="#151515" stroke-width="1.3" />
<text x="496.10" y="228.70" font-size="9.4" font-weight="bold" text-anchor="end" fill="#151515" >1.5</text>
<path d="M519.50,348.30 V267.32 H542.50 V348.30 Z" fill="#d4d4d4" stroke="none"/>
<path d="M519.50,348.30 V267.32 H542.50 V348.30" fill="none" stroke="#6b6b6b" stroke-width="1.3"/>
<path d="M562.30,348.30 V289.65 H585.30 V348.30 Z" fill="#d4d4d4" stroke="none"/>
<path d="M562.30,348.30 V289.65 H585.30 V348.30" fill="none" stroke="#6b6b6b" stroke-width="1.3"/>
<path d="M605.50,348.30 V310.92 H628.50 V348.30 Z" fill="#d4d4d4" stroke="none"/>
<path d="M605.50,348.30 V310.92 H628.50 V348.30" fill="none" stroke="#6b6b6b" stroke-width="1.3"/>
<path d="M648.30,348.30 V318.36 H671.30 V348.30 Z" fill="#d4d4d4" stroke="none"/>
<path d="M648.30,348.30 V318.36 H671.30 V348.30" fill="none" stroke="#6b6b6b" stroke-width="1.3"/>
<line x1="531.00" y1="255.46" x2="531.00" y2="278.52" stroke="#555" stroke-width="1.2" />
<line x1="526.50" y1="255.46" x2="535.50" y2="255.46" stroke="#555" stroke-width="1.2" />
<line x1="526.50" y1="278.52" x2="535.50" y2="278.52" stroke="#555" stroke-width="1.2" />
<circle cx="531.00" cy="255.87" r="2.70" fill="#c9c9c9" stroke="#6e6e6e" stroke-width="1.0"/>
<circle cx="531.00" cy="264.86" r="2.70" fill="#c9c9c9" stroke="#6e6e6e" stroke-width="1.0"/>
<circle cx="531.00" cy="278.52" r="2.70" fill="#c9c9c9" stroke="#6e6e6e" stroke-width="1.0"/>
<line x1="573.80" y1="283.68" x2="573.80" y2="294.72" stroke="#555" stroke-width="1.2" />
<line x1="569.30" y1="283.68" x2="578.30" y2="283.68" stroke="#555" stroke-width="1.2" />
<line x1="569.30" y1="294.72" x2="578.30" y2="294.72" stroke="#555" stroke-width="1.2" />
<circle cx="573.80" cy="284.09" r="2.70" fill="#c9c9c9" stroke="#6e6e6e" stroke-width="1.0"/>
<circle cx="577.10" cy="287.60" r="2.70" fill="#c9c9c9" stroke="#6e6e6e" stroke-width="1.0"/>
<circle cx="570.10" cy="294.31" r="2.70" fill="#c9c9c9" stroke="#6e6e6e" stroke-width="1.0"/>
<line x1="617.00" y1="309.04" x2="617.00" y2="312.31" stroke="#555" stroke-width="1.2" />
<line x1="612.50" y1="309.04" x2="621.50" y2="309.04" stroke="#555" stroke-width="1.2" />
<line x1="612.50" y1="312.31" x2="621.50" y2="312.31" stroke="#555" stroke-width="1.2" />
<circle cx="609.30" cy="308.22" r="2.70" fill="#c9c9c9" stroke="#6e6e6e" stroke-width="1.0"/>
<circle cx="617.00" cy="312.55" r="2.70" fill="#c9c9c9" stroke="#6e6e6e" stroke-width="1.0"/>
<circle cx="624.30" cy="310.26" r="2.70" fill="#c9c9c9" stroke="#6e6e6e" stroke-width="1.0"/>
<line x1="659.80" y1="313.94" x2="659.80" y2="322.37" stroke="#555" stroke-width="1.2" />
<line x1="655.30" y1="313.94" x2="664.30" y2="313.94" stroke="#555" stroke-width="1.2" />
<line x1="655.30" y1="322.37" x2="664.30" y2="322.37" stroke="#555" stroke-width="1.2" />
<circle cx="652.50" cy="312.55" r="2.70" fill="#c9c9c9" stroke="#6e6e6e" stroke-width="1.0"/>
<circle cx="659.80" cy="320.82" r="2.70" fill="#c9c9c9" stroke="#6e6e6e" stroke-width="1.0"/>
<circle cx="666.80" cy="319.67" r="2.70" fill="#c9c9c9" stroke="#6e6e6e" stroke-width="1.0"/>
<path d="M500.40,225.70 H683.90 V348.30 H500.40 Z" fill="none" stroke="#151515" stroke-width="1.3"/>
<line x1="531.00" y1="348.30" x2="531.00" y2="351.50" stroke="#151515" stroke-width="1.3" />
<line x1="573.80" y1="348.30" x2="573.80" y2="351.50" stroke="#151515" stroke-width="1.3" />
<line x1="617.00" y1="348.30" x2="617.00" y2="351.50" stroke="#151515" stroke-width="1.3" />
<line x1="659.80" y1="348.30" x2="659.80" y2="351.50" stroke="#151515" stroke-width="1.3" />
<polygon points="516.80,239.70 521.50,229.10 537.70,229.10 542.40,239.70 537.70,250.30 521.50,250.30" fill="#fce0c4" stroke="#e2c4a2" stroke-width="0.8"/>
<text x="529.6" y="243.1" font-size="9.2" font-weight="bold" text-anchor="middle"><tspan fill="#d21f2b">A</tspan><tspan fill="#222">+</tspan><tspan fill="#2457ad">B</tspan></text>
<polygon points="559.50,241.10 564.20,230.50 580.40,230.50 585.10,241.10 580.40,251.70 564.20,251.70" fill="#fce0c4" stroke="#e2c4a2" stroke-width="0.8"/>
<text x="572.3" y="244.4" font-size="9.2" font-weight="bold" text-anchor="middle" fill="#2457ad">B</text>
<polygon points="559.50,266.40 564.20,255.80 580.40,255.80 585.10,266.40 580.40,277.00 564.20,277.00" fill="#fce0c4" stroke="#e2c4a2" stroke-width="0.8"/>
<text x="572.3" y="269.7" font-size="9.2" font-weight="bold" text-anchor="middle" fill="#d21f2b">A</text>
<polygon points="603.80,291.00 608.50,280.40 624.70,280.40 629.40,291.00 624.70,301.60 608.50,301.60" fill="#fce0c4" stroke="#e2c4a2" stroke-width="0.8"/>
<text x="616.6" y="294.3" font-size="9.2" font-weight="bold" text-anchor="middle" fill="#d21f2b">A</text>
<polygon points="646.70,296.30 651.40,285.70 667.60,285.70 672.30,296.30 667.60,306.90 651.40,306.90" fill="#fce0c4" stroke="#e2c4a2" stroke-width="0.8"/>
<text x="659.5" y="299.6" font-size="9.2" font-weight="bold" text-anchor="middle" fill="#2457ad">B</text>
<text transform="translate(534.00,361.80) rotate(-30)" font-size="9.6" font-weight="bold" text-anchor="end" fill="#151515">Pt-iNOS@ZIF</text>
<text transform="translate(576.80,361.80) rotate(-30)" font-size="9.6" font-weight="bold" text-anchor="end" fill="#151515">Pt@ZIF+iNOS@ZIF</text>
<text transform="translate(620.00,361.80) rotate(-30)" font-size="9.6" font-weight="bold" text-anchor="end" fill="#151515">iNOS@ZIF</text>
<text transform="translate(662.80,361.80) rotate(-30)" font-size="9.6" font-weight="bold" text-anchor="end" fill="#151515">Pt@ZIF</text>
<text transform="translate(476.30,286.80) rotate(-90)" font-size="10.0" font-weight="bold" text-anchor="middle" fill="#151515">Relative Activity</text>
<line x1="264.50" y1="592.10" x2="267.70" y2="592.10" stroke="#151515" stroke-width="1.3" />
<text x="262.50" y="594.60" font-size="9.4" font-weight="bold" text-anchor="end" fill="#151515" >0.0</text>
<line x1="265.90" y1="574.90" x2="267.70" y2="574.90" stroke="#151515" stroke-width="1.3" />
<line x1="264.50" y1="557.70" x2="267.70" y2="557.70" stroke="#151515" stroke-width="1.3" />
<text x="262.50" y="560.20" font-size="9.4" font-weight="bold" text-anchor="end" fill="#151515" >0.2</text>
<line x1="265.90" y1="540.50" x2="267.70" y2="540.50" stroke="#151515" stroke-width="1.3" />
<line x1="264.50" y1="523.30" x2="267.70" y2="523.30" stroke="#151515" stroke-width="1.3" />
<text x="262.50" y="525.80" font-size="9.4" font-weight="bold" text-anchor="end" fill="#151515" >0.4</text>
<line x1="265.90" y1="506.10" x2="267.70" y2="506.10" stroke="#151515" stroke-width="1.3" />
<line x1="264.50" y1="488.90" x2="267.70" y2="488.90" stroke="#151515" stroke-width="1.3" />
<text x="262.50" y="491.40" font-size="9.4" font-weight="bold" text-anchor="end" fill="#151515" >0.6</text>
<line x1="265.90" y1="471.70" x2="267.70" y2="471.70" stroke="#151515" stroke-width="1.3" />
<line x1="264.50" y1="454.50" x2="267.70" y2="454.50" stroke="#151515" stroke-width="1.3" />
<text x="262.50" y="457.00" font-size="9.4" font-weight="bold" text-anchor="end" fill="#151515" >0.8</text>
<line x1="267.70" y1="600.60" x2="267.70" y2="603.80" stroke="#151515" stroke-width="1.3" />
<text x="267.70" y="612.80" font-size="9.4" font-weight="bold" text-anchor="middle" fill="#151515" >400</text>
<line x1="286.04" y1="600.60" x2="286.04" y2="602.40" stroke="#151515" stroke-width="1.3" />
<line x1="304.38" y1="600.60" x2="304.38" y2="603.80" stroke="#151515" stroke-width="1.3" />
<text x="304.38" y="612.80" font-size="9.4" font-weight="bold" text-anchor="middle" fill="#151515" >500</text>
<line x1="322.72" y1="600.60" x2="322.72" y2="602.40" stroke="#151515" stroke-width="1.3" />
<line x1="341.06" y1="600.60" x2="341.06" y2="603.80" stroke="#151515" stroke-width="1.3" />
<text x="341.06" y="612.80" font-size="9.4" font-weight="bold" text-anchor="middle" fill="#151515" >600</text>
<line x1="359.40" y1="600.60" x2="359.40" y2="602.40" stroke="#151515" stroke-width="1.3" />
<line x1="377.74" y1="600.60" x2="377.74" y2="603.80" stroke="#151515" stroke-width="1.3" />
<text x="377.74" y="612.80" font-size="9.4" font-weight="bold" text-anchor="middle" fill="#151515" >700</text>
<line x1="396.08" y1="600.60" x2="396.08" y2="602.40" stroke="#151515" stroke-width="1.3" />
<line x1="414.42" y1="600.60" x2="414.42" y2="603.80" stroke="#151515" stroke-width="1.3" />
<text x="414.42" y="612.80" font-size="9.4" font-weight="bold" text-anchor="middle" fill="#151515" >800</text>
<line x1="432.76" y1="600.60" x2="432.76" y2="602.40" stroke="#151515" stroke-width="1.3" />
<line x1="451.10" y1="600.60" x2="451.10" y2="603.80" stroke="#151515" stroke-width="1.3" />
<text x="451.10" y="612.80" font-size="9.4" font-weight="bold" text-anchor="middle" fill="#151515" >900</text>
<g>
<defs>
<linearGradient id="bgL" x1="0" y1="0" x2="1" y2="1"><stop offset="0" stop-color="#d9d7d3"/><stop offset="0.5" stop-color="#e0ded9"/><stop offset="1" stop-color="#e6e3de"/></linearGradient>
<linearGradient id="bgR" x1="0" y1="0" x2="1" y2="0"><stop offset="0" stop-color="#e0ddd8"/><stop offset="1" stop-color="#e7e4df"/></linearGradient>
<linearGradient id="blu" x1="0" y1="0" x2="0" y2="1"><stop offset="0" stop-color="#7db6c0"/><stop offset="0.22" stop-color="#5aa2b0"/><stop offset="0.5" stop-color="#4594a5"/><stop offset="1" stop-color="#4f9cac"/></linearGradient>
<linearGradient id="grn" x1="0" y1="0" x2="0" y2="1"><stop offset="0" stop-color="#d3dbd4"/><stop offset="1" stop-color="#cbd5cd"/></linearGradient>
<filter id="bl1" x="-20%" y="-20%" width="140%" height="140%"><feGaussianBlur stdDeviation="0.8"/></filter>
</defs>
<rect x="373.9" y="454.6" width="38.0" height="66.4" fill="url(#bgL)"/>
<rect x="411.9" y="454.6" width="39.2" height="66.4" fill="url(#bgR)"/>
<g filter="url(#bl1)">
<path d="M385.5,455 L385.5,478 M405.3,455 L405.3,478" stroke="#eeeeec" stroke-width="1.2"/>
<path d="M398.8,455 L398.8,480" stroke="#fbfbfa" stroke-width="1.6"/>
<path d="M379.5,484 Q380,480 384,481 L387,483 L388,509 Q385,513 381.5,509 Z" fill="#b3d9d9"/>
<path d="M385.3,478 Q395,474.5 405.3,477.5 L401.5,511 Q399,517 393.5,516 Q389.5,514 388.5,508 Z" fill="url(#blu)"/>
<path d="M398.5,480 L397.5,512" stroke="#8cc3cb" stroke-width="1.0" opacity="0.6"/>
<path d="M429.3,455 L429.3,482 M442.2,455 L442.2,482" stroke="#efefed" stroke-width="1.2"/>
<path d="M439.5,455 L439.5,483" stroke="#fbfbfa" stroke-width="1.6"/>
<path d="M420.5,482 Q421.5,479 425,480 L427.5,483 L428,506 Q424.5,510 422,506 Z" fill="#f2f1ea"/>
<path d="M424.5,482 Q434,480 443.3,482 L440.5,510 Q437.5,515.5 432,514.5 Q429,512.5 428.5,507 Z" fill="url(#grn)"/>
</g>
<line x1="411.9" y1="454.6" x2="411.9" y2="521" stroke="#d6d3ce" stroke-width="0.6"/>
</g>
<path d="M267.70,454.00 H451.10 V600.60 H267.70 Z" fill="none" stroke="#151515" stroke-width="1.3"/>
<polyline points="266.23,472.56 266.70,470.43 267.16,468.05 267.62,465.57 268.09,464.51 268.55,464.09 269.01,464.00 269.48,463.79 269.94,463.39 270.40,462.99 270.87,462.57 271.33,462.17 271.79,461.86 272.26,461.61 272.72,461.42 273.18,461.41 273.65,461.76 274.11,462.42 274.57,463.52 275.04,465.86 275.50,469.00 275.96,473.99 276.43,479.51 276.89,483.84 277.35,487.70 277.82,491.59 278.28,496.00 278.74,501.11 279.21,506.74 279.67,512.64 280.13,518.59 280.60,524.35 281.06,529.69 281.52,534.82 281.99,540.08 282.45,545.29 282.91,550.26 283.38,554.80 283.84,558.73 284.30,561.86 284.77,564.30 285.23,566.55 285.69,568.61 286.16,570.49 286.62,572.17 287.08,573.66 287.55,574.96 288.01,576.05 288.47,576.94 288.94,577.76 289.40,578.55 289.86,579.31 290.33,580.02 290.79,580.69 291.25,581.29 291.72,581.83 292.18,582.29 292.64,582.66 293.11,582.94 293.57,583.10 294.03,583.16 294.50,583.14 294.96,583.12 295.42,583.07 295.89,583.01 296.35,582.94 296.81,582.87 297.28,582.78 297.74,582.69 298.20,582.60 298.67,582.51 299.13,582.42 299.59,582.32 300.06,582.21 300.52,582.09 300.98,581.96 301.45,581.83 301.91,581.69 302.37,581.53 302.84,581.37 303.30,581.21 303.76,581.03 304.23,580.85 304.69,580.67 305.15,580.47 305.62,580.25 306.08,580.03 306.54,579.78 307.01,579.53 307.47,579.27 307.93,578.99 308.40,578.71 308.86,578.41 309.32,578.11 309.79,577.80 310.25,577.48 310.71,577.15 311.18,576.81 311.64,576.47 312.10,576.13 312.57,575.78 313.03,575.42 313.49,575.06 313.96,574.70 314.42,574.34 314.88,573.97 315.35,573.60 315.81,573.24 316.27,572.87 316.74,572.50 317.20,572.14 317.66,571.77 318.13,571.39 318.59,571.01 319.05,570.61 319.52,570.20 319.98,569.79 320.44,569.36 320.91,568.93 321.37,568.50 321.83,568.06 322.30,567.61 322.76,567.16 323.22,566.71 323.69,566.26 324.15,565.80 324.61,565.34 325.08,564.89 325.54,564.43 326.00,563.98 326.47,563.53 326.93,563.08 327.39,562.64 327.86,562.20 328.32,561.77 328.78,561.35 329.25,560.93 329.71,560.52 330.17,560.12 330.64,559.72 331.10,559.32 331.56,558.93 332.03,558.54 332.49,558.15 332.95,557.76 333.42,557.38 333.88,557.00 334.34,556.62 334.81,556.24 335.27,555.86 335.73,555.49 336.20,555.12 336.66,554.75 337.12,554.38 337.59,554.02 338.05,553.65 338.51,553.29 338.98,552.93 339.44,552.57 339.90,552.22 340.37,551.86 340.83,551.51 341.29,551.16 341.75,550.81 342.22,550.47 342.68,550.13 343.14,549.79 343.61,549.45 344.07,549.12 344.53,548.79 345.00,548.46 345.46,548.13 345.92,547.80 346.39,547.47 346.85,547.15 347.31,546.82 347.78,546.50 348.24,546.18 348.70,545.86 349.17,545.54 349.63,545.21 350.09,544.89 350.56,544.57 351.02,544.21 351.48,543.84 351.95,543.44 352.41,543.04 352.87,542.62 353.34,542.21 353.80,541.79 354.26,541.38 354.73,540.98 355.19,540.60 355.65,540.24 356.12,539.90 356.58,539.59 357.04,539.31 357.51,539.08 357.97,538.88 358.43,538.74 358.90,538.64 359.36,538.61 359.82,538.61 360.29,538.61 360.75,538.62 361.21,538.63 361.68,538.64 362.14,538.66 362.60,538.67 363.07,538.69 363.53,538.71 363.99,538.73 364.46,538.76 364.92,538.78 365.38,538.82 365.85,538.88 366.31,538.96 366.77,539.05 367.24,539.15 367.70,539.24 368.16,539.32 368.63,539.39 369.09,539.44 369.55,539.47 370.02,539.46 370.48,539.41 370.94,539.32 371.41,539.21 371.87,539.07 372.33,538.90 372.80,538.72 373.26,538.51 373.72,538.30 374.19,538.08 374.65,537.85 375.11,537.62 375.58,537.39 376.04,537.17 376.50,536.95 376.97,536.71 377.43,536.45 377.89,536.17 378.36,535.87 378.82,535.56 379.28,535.24 379.75,534.92 380.21,534.59 380.67,534.28 381.14,533.97 381.60,533.67 382.06,533.38 382.53,533.12 382.99,532.88 383.45,532.66 383.92,532.44 384.38,532.21 384.84,531.98 385.31,531.75 385.77,531.53 386.23,531.32 386.70,531.11 387.16,530.93 387.62,530.76 388.09,530.62 388.55,530.50 389.01,530.41 389.48,530.36 389.94,530.35 390.40,530.38 390.87,530.45 391.33,530.54 391.79,530.67 392.26,530.81 392.72,530.97 393.18,531.14 393.65,531.32 394.11,531.50 394.57,531.69 395.04,531.93 395.50,532.20 395.96,532.49 396.43,532.81 396.89,533.14 397.35,533.48 397.82,533.81 398.28,534.14 398.74,534.46 399.21,534.80 399.67,535.14 400.13,535.50 400.60,535.85 401.06,536.21 401.52,536.57 401.99,536.92 402.45,537.26 402.91,537.58 403.38,537.89 403.84,538.20 404.30,538.53 404.77,538.86 405.23,539.18 405.69,539.50 406.16,539.79 406.62,540.04 407.08,540.26 407.55,540.43 408.01,540.54 408.47,540.63 408.94,540.72 409.40,540.79 409.86,540.86 410.33,540.92 410.79,540.97 411.25,541.02 411.72,541.07 412.18,541.12 412.64,541.16 413.11,541.21 413.57,541.26 414.03,541.31 414.50,541.37 414.96,541.42 415.42,541.47 415.89,541.52 416.35,541.57 416.81,541.61 417.28,541.65 417.74,541.69 418.20,541.73 418.67,541.77 419.13,541.82 419.59,541.87 420.06,541.92 420.52,541.98 420.98,542.05 421.45,542.12 421.91,542.20 422.37,542.29 422.84,542.39 423.30,542.53 423.76,542.73 424.23,543.00 424.69,543.32 425.15,543.68 425.62,544.08 426.08,544.50 426.54,544.95 427.01,545.41 427.47,545.88 427.93,546.44 428.40,547.06 428.86,547.75 429.32,548.48 429.79,549.23 430.25,549.98 430.71,550.72 431.18,551.49 431.64,552.27 432.10,553.09 432.57,553.91 433.03,554.75 433.49,555.59 433.96,556.43 434.42,557.26 434.88,558.08 435.35,558.90 435.81,559.73 436.27,560.58 436.74,561.43 437.20,562.27 437.66,563.10 438.13,563.92 438.59,564.70 439.05,565.45 439.52,566.16 439.98,566.83 440.44,567.47 440.91,568.09 441.37,568.70 441.83,569.29 442.30,569.86 442.76,570.42 443.22,570.96 443.69,571.49 444.15,572.00 444.61,572.50 445.08,572.99 445.54,573.47 446.00,573.93 446.47,574.39 446.93,574.83 447.39,575.27 447.86,575.69 448.32,576.11 448.78,576.51 449.25,576.90 449.71,577.28 450.17,577.65 450.64,578.00 451.10,578.34" fill="none" stroke="#151515" stroke-width="1.3" stroke-linejoin="round" />
<polyline points="266.23,558.73 266.70,559.62 267.16,560.50 267.62,561.45 268.09,561.64 268.55,561.49 269.01,561.26 269.48,561.00 269.94,560.72 270.40,560.38 270.87,560.02 271.33,559.68 271.79,559.39 272.26,559.11 272.72,558.83 273.18,558.58 273.65,558.37 274.11,558.24 274.57,558.23 275.04,558.36 275.50,558.62 275.96,558.97 276.43,559.35 276.89,559.82 277.35,560.49 277.82,561.32 278.28,562.45 278.74,564.01 279.21,565.78 279.67,567.54 280.13,569.18 280.60,570.86 281.06,572.53 281.52,574.10 281.99,575.50 282.45,576.80 282.91,578.02 283.38,579.15 283.84,580.18 284.30,581.10 284.77,581.97 285.23,582.78 285.69,583.53 286.16,584.19 286.62,584.73 287.08,585.15 287.55,585.55 288.01,585.91 288.47,586.22 288.94,586.48 289.40,586.68 289.86,586.81 290.33,586.91 290.79,587.01 291.25,587.10 291.72,587.17 292.18,587.23 292.64,587.27 293.11,587.28 293.57,587.28 294.03,587.28 294.50,587.28 294.96,587.28 295.42,587.28 295.89,587.27 296.35,587.27 296.81,587.26 297.28,587.26 297.74,587.25 298.20,587.25 298.67,587.24 299.13,587.23 299.59,587.22 300.06,587.22 300.52,587.21 300.98,587.20 301.45,587.19 301.91,587.18 302.37,587.17 302.84,587.16 303.30,587.14 303.76,587.13 304.23,587.12 304.69,587.11 305.15,587.08 305.62,587.05 306.08,587.01 306.54,586.97 307.01,586.91 307.47,586.85 307.93,586.78 308.40,586.71 308.86,586.63 309.32,586.55 309.79,586.46 310.25,586.36 310.71,586.27 311.18,586.17 311.64,586.07 312.10,585.97 312.57,585.86 313.03,585.76 313.49,585.66 313.96,585.55 314.42,585.45 314.88,585.35 315.35,585.25 315.81,585.15 316.27,585.06 316.74,584.97 317.20,584.88 317.66,584.79 318.13,584.71 318.59,584.62 319.05,584.53 319.52,584.44 319.98,584.35 320.44,584.26 320.91,584.17 321.37,584.08 321.83,583.99 322.30,583.90 322.76,583.80 323.22,583.71 323.69,583.62 324.15,583.53 324.61,583.44 325.08,583.35 325.54,583.26 326.00,583.17 326.47,583.08 326.93,583.00 327.39,582.91 327.86,582.83 328.32,582.75 328.78,582.67 329.25,582.59 329.71,582.51 330.17,582.44 330.64,582.37 331.10,582.29 331.56,582.22 332.03,582.16 332.49,582.09 332.95,582.02 333.42,581.96 333.88,581.89 334.34,581.83 334.81,581.76 335.27,581.70 335.73,581.64 336.20,581.58 336.66,581.51 337.12,581.45 337.59,581.39 338.05,581.33 338.51,581.27 338.98,581.21 339.44,581.14 339.90,581.08 340.37,581.02 340.83,580.95 341.29,580.89 341.75,580.82 342.22,580.75 342.68,580.67 343.14,580.60 343.61,580.52 344.07,580.44 344.53,580.36 345.00,580.27 345.46,580.19 345.92,580.10 346.39,580.02 346.85,579.93 347.31,579.84 347.78,579.76 348.24,579.67 348.70,579.58 349.17,579.50 349.63,579.42 350.09,579.33 350.56,579.25 351.02,579.17 351.48,579.09 351.95,579.02 352.41,578.95 352.87,578.88 353.34,578.81 353.80,578.75 354.26,578.69 354.73,578.63 355.19,578.58 355.65,578.53 356.12,578.49 356.58,578.45 357.04,578.42 357.51,578.39 357.97,578.37 358.43,578.35 358.90,578.34 359.36,578.34 359.82,578.34 360.29,578.34 360.75,578.34 361.21,578.34 361.68,578.34 362.14,578.34 362.60,578.34 363.07,578.34 363.53,578.34 363.99,578.34 364.46,578.34 364.92,578.34 365.38,578.34 365.85,578.34 366.31,578.34 366.77,578.34 367.24,578.34 367.70,578.34 368.16,578.34 368.63,578.34 369.09,578.34 369.55,578.34 370.02,578.34 370.48,578.34 370.94,578.34 371.41,578.34 371.87,578.34 372.33,578.32 372.80,578.30 373.26,578.26 373.72,578.22 374.19,578.17 374.65,578.11 375.11,578.05 375.58,577.98 376.04,577.90 376.50,577.82 376.97,577.74 377.43,577.66 377.89,577.57 378.36,577.49 378.82,577.40 379.28,577.32 379.75,577.23 380.21,577.15 380.67,577.08 381.14,577.00 381.60,576.94 382.06,576.86 382.53,576.78 382.99,576.70 383.45,576.61 383.92,576.52 384.38,576.43 384.84,576.34 385.31,576.25 385.77,576.15 386.23,576.06 386.70,575.98 387.16,575.89 387.62,575.81 388.09,575.73 388.55,575.66 389.01,575.60 389.48,575.55 389.94,575.50 390.40,575.46 390.87,575.43 391.33,575.42 391.79,575.42 392.26,575.42 392.72,575.44 393.18,575.46 393.65,575.50 394.11,575.53 394.57,575.58 395.04,575.63 395.50,575.69 395.96,575.75 396.43,575.81 396.89,575.88 397.35,575.95 397.82,576.02 398.28,576.10 398.74,576.17 399.21,576.25 399.67,576.32 400.13,576.40 400.60,576.47 401.06,576.54 401.52,576.61 401.99,576.68 402.45,576.76 402.91,576.85 403.38,576.94 403.84,577.04 404.30,577.14 404.77,577.25 405.23,577.36 405.69,577.46 406.16,577.57 406.62,577.68 407.08,577.78 407.55,577.88 408.01,577.97 408.47,578.05 408.94,578.13 409.40,578.19 409.86,578.25 410.33,578.29 410.79,578.32 411.25,578.34 411.72,578.34 412.18,578.33 412.64,578.31 413.11,578.29 413.57,578.25 414.03,578.22 414.50,578.17 414.96,578.13 415.42,578.08 415.89,578.03 416.35,577.99 416.81,577.94 417.28,577.89 417.74,577.85 418.20,577.81 418.67,577.78 419.13,577.73 419.59,577.69 420.06,577.64 420.52,577.59 420.98,577.54 421.45,577.50 421.91,577.45 422.37,577.41 422.84,577.38 423.30,577.35 423.76,577.33 424.23,577.31 424.69,577.31 425.15,577.33 425.62,577.38 426.08,577.47 426.54,577.58 427.01,577.72 427.47,577.87 427.93,578.04 428.40,578.22 428.86,578.41 429.32,578.59 429.79,578.78 430.25,578.96 430.71,579.13 431.18,579.28 431.64,579.44 432.10,579.60 432.57,579.77 433.03,579.94 433.49,580.11 433.96,580.28 434.42,580.45 434.88,580.63 435.35,580.81 435.81,580.99 436.27,581.17 436.74,581.35 437.20,581.53 437.66,581.71 438.13,581.89 438.59,582.07 439.05,582.24 439.52,582.42 439.98,582.60 440.44,582.77 440.91,582.94 441.37,583.12 441.83,583.29 442.30,583.47 442.76,583.64 443.22,583.81 443.69,583.99 444.15,584.16 444.61,584.33 445.08,584.51 445.54,584.68 446.00,584.86 446.47,585.03 446.93,585.20 447.39,585.38 447.86,585.55 448.32,585.73 448.78,585.90 449.25,586.07 449.71,586.25 450.17,586.42 450.64,586.59 451.10,586.77" fill="none" stroke="#e02a2a" stroke-width="1.3" stroke-linejoin="round" />
<line x1="287.00" y1="464.70" x2="305.00" y2="464.70" stroke="#151515" stroke-width="1.5" />
<text x="306.90" y="467.60" font-size="9.6" font-weight="bold" text-anchor="start" fill="#151515" >Blank</text>
<line x1="287.00" y1="477.00" x2="305.00" y2="477.00" stroke="#e02a2a" stroke-width="1.5" />
<text x="306.90" y="480.40" font-size="9.5" font-weight="bold" text-anchor="start" fill="#151515" >Pt@ZIF-8</text>
<text x="359.40" y="628.20" font-size="9.6" font-weight="bold" text-anchor="middle" fill="#151515" >Wavelength (nm)</text>
<text transform="translate(239.60,523.70) rotate(-90)" font-size="9.3" font-weight="bold" text-anchor="middle" fill="#151515">Abs (a.u.)</text>
<path d="M496.40,453.30 H681.20 V600.50 H496.40 Z" fill="none" stroke="#151515" stroke-width="1.3"/>
<line x1="493.20" y1="594.00" x2="496.40" y2="594.00" stroke="#151515" stroke-width="1.3" />
<text x="492.10" y="597.10" font-size="9.4" font-weight="bold" text-anchor="end" fill="#151515" >0</text>
<line x1="493.20" y1="559.00" x2="496.40" y2="559.00" stroke="#151515" stroke-width="1.3" />
<text x="492.10" y="562.10" font-size="9.4" font-weight="bold" text-anchor="end" fill="#151515" >25</text>
<line x1="493.20" y1="524.00" x2="496.40" y2="524.00" stroke="#151515" stroke-width="1.3" />
<text x="492.10" y="527.10" font-size="9.4" font-weight="bold" text-anchor="end" fill="#151515" >50</text>
<line x1="493.20" y1="489.00" x2="496.40" y2="489.00" stroke="#151515" stroke-width="1.3" />
<text x="492.10" y="492.10" font-size="9.4" font-weight="bold" text-anchor="end" fill="#151515" >75</text>
<line x1="493.20" y1="454.00" x2="496.40" y2="454.00" stroke="#151515" stroke-width="1.3" />
<text x="492.10" y="457.10" font-size="9.4" font-weight="bold" text-anchor="end" fill="#151515" >100</text>
<line x1="496.40" y1="600.50" x2="496.40" y2="603.70" stroke="#151515" stroke-width="1.3" />
<text x="496.40" y="614.10" font-size="9.4" font-weight="bold" text-anchor="middle" fill="#151515" >0</text>
<line x1="519.50" y1="600.50" x2="519.50" y2="602.30" stroke="#151515" stroke-width="1.3" />
<line x1="542.60" y1="600.50" x2="542.60" y2="603.70" stroke="#151515" stroke-width="1.3" />
<text x="542.60" y="614.10" font-size="9.4" font-weight="bold" text-anchor="middle" fill="#151515" >1</text>
<line x1="565.70" y1="600.50" x2="565.70" y2="602.30" stroke="#151515" stroke-width="1.3" />
<line x1="588.80" y1="600.50" x2="588.80" y2="603.70" stroke="#151515" stroke-width="1.3" />
<text x="588.80" y="614.10" font-size="9.4" font-weight="bold" text-anchor="middle" fill="#151515" >2</text>
<line x1="611.90" y1="600.50" x2="611.90" y2="602.30" stroke="#151515" stroke-width="1.3" />
<line x1="635.00" y1="600.50" x2="635.00" y2="603.70" stroke="#151515" stroke-width="1.3" />
<text x="635.00" y="614.10" font-size="9.4" font-weight="bold" text-anchor="middle" fill="#151515" >3</text>
<line x1="658.10" y1="600.50" x2="658.10" y2="602.30" stroke="#151515" stroke-width="1.3" />
<line x1="681.20" y1="600.50" x2="681.20" y2="603.70" stroke="#151515" stroke-width="1.3" />
<text x="681.20" y="614.10" font-size="9.4" font-weight="bold" text-anchor="middle" fill="#151515" >4</text>
<polyline points="500.23,556.06 519.50,541.36 542.60,531.42 565.70,521.90 588.80,516.16 611.90,510.84 635.00,506.36 658.10,505.24" fill="none" stroke="#3bb23f" stroke-width="1.4" stroke-linejoin="round" />
<line x1="500.23" y1="558.30" x2="500.23" y2="553.82" stroke="#3bb23f" stroke-width="1.2" />
<line x1="497.43" y1="558.30" x2="503.03" y2="558.30" stroke="#3bb23f" stroke-width="1.2" />
<line x1="497.43" y1="553.82" x2="503.03" y2="553.82" stroke="#3bb23f" stroke-width="1.2" />
<polygon points="500.23,552.76 503.53,556.06 500.23,559.36 496.93,556.06" fill="#3bb23f"/>
<line x1="519.50" y1="544.86" x2="519.50" y2="537.86" stroke="#3bb23f" stroke-width="1.2" />
<line x1="516.70" y1="544.86" x2="522.30" y2="544.86" stroke="#3bb23f" stroke-width="1.2" />
<line x1="516.70" y1="537.86" x2="522.30" y2="537.86" stroke="#3bb23f" stroke-width="1.2" />
<polygon points="519.50,538.06 522.80,541.36 519.50,544.66 516.20,541.36" fill="#3bb23f"/>
<line x1="542.60" y1="535.62" x2="542.60" y2="527.22" stroke="#3bb23f" stroke-width="1.2" />
<line x1="539.80" y1="535.62" x2="545.40" y2="535.62" stroke="#3bb23f" stroke-width="1.2" />
<line x1="539.80" y1="527.22" x2="545.40" y2="527.22" stroke="#3bb23f" stroke-width="1.2" />
<polygon points="542.60,528.12 545.90,531.42 542.60,534.72 539.30,531.42" fill="#3bb23f"/>
<line x1="565.70" y1="526.10" x2="565.70" y2="517.70" stroke="#3bb23f" stroke-width="1.2" />
<line x1="562.90" y1="526.10" x2="568.50" y2="526.10" stroke="#3bb23f" stroke-width="1.2" />
<line x1="562.90" y1="517.70" x2="568.50" y2="517.70" stroke="#3bb23f" stroke-width="1.2" />
<polygon points="565.70,518.60 569.00,521.90 565.70,525.20 562.40,521.90" fill="#3bb23f"/>
<line x1="588.80" y1="520.78" x2="588.80" y2="511.54" stroke="#3bb23f" stroke-width="1.2" />
<line x1="586.00" y1="520.78" x2="591.60" y2="520.78" stroke="#3bb23f" stroke-width="1.2" />
<line x1="586.00" y1="511.54" x2="591.60" y2="511.54" stroke="#3bb23f" stroke-width="1.2" />
<polygon points="588.80,512.86 592.10,516.16 588.80,519.46 585.50,516.16" fill="#3bb23f"/>
<line x1="611.90" y1="515.46" x2="611.90" y2="506.22" stroke="#3bb23f" stroke-width="1.2" />
<line x1="609.10" y1="515.46" x2="614.70" y2="515.46" stroke="#3bb23f" stroke-width="1.2" />
<line x1="609.10" y1="506.22" x2="614.70" y2="506.22" stroke="#3bb23f" stroke-width="1.2" />
<polygon points="611.90,507.54 615.20,510.84 611.90,514.14 608.60,510.84" fill="#3bb23f"/>
<line x1="635.00" y1="511.12" x2="635.00" y2="501.60" stroke="#3bb23f" stroke-width="1.2" />
<line x1="632.20" y1="511.12" x2="637.80" y2="511.12" stroke="#3bb23f" stroke-width="1.2" />
<line x1="632.20" y1="501.60" x2="637.80" y2="501.60" stroke="#3bb23f" stroke-width="1.2" />
<polygon points="635.00,503.06 638.30,506.36 635.00,509.66 631.70,506.36" fill="#3bb23f"/>
<line x1="658.10" y1="509.86" x2="658.10" y2="500.62" stroke="#3bb23f" stroke-width="1.2" />
<line x1="655.30" y1="509.86" x2="660.90" y2="509.86" stroke="#3bb23f" stroke-width="1.2" />
<line x1="655.30" y1="500.62" x2="660.90" y2="500.62" stroke="#3bb23f" stroke-width="1.2" />
<polygon points="658.10,501.94 661.40,505.24 658.10,508.54 654.80,505.24" fill="#3bb23f"/>
<polyline points="500.23,564.46 519.50,552.98 542.60,544.30 565.70,535.62 588.80,530.02 611.90,524.56 635.00,520.92 658.10,517.98" fill="none" stroke="#d070b8" stroke-width="1.4" stroke-linejoin="round" />
<line x1="500.23" y1="566.56" x2="500.23" y2="562.36" stroke="#d070b8" stroke-width="1.2" />
<line x1="497.43" y1="566.56" x2="503.03" y2="566.56" stroke="#d070b8" stroke-width="1.2" />
<line x1="497.43" y1="562.36" x2="503.03" y2="562.36" stroke="#d070b8" stroke-width="1.2" />
<polygon points="500.23,567.91 496.93,562.16 503.53,562.16" fill="#d070b8"/>
<line x1="519.50" y1="555.08" x2="519.50" y2="550.88" stroke="#d070b8" stroke-width="1.2" />
<line x1="516.70" y1="555.08" x2="522.30" y2="555.08" stroke="#d070b8" stroke-width="1.2" />
<line x1="516.70" y1="550.88" x2="522.30" y2="550.88" stroke="#d070b8" stroke-width="1.2" />
<polygon points="519.50,556.43 516.20,550.68 522.80,550.68" fill="#d070b8"/>
<line x1="542.60" y1="546.82" x2="542.60" y2="541.78" stroke="#d070b8" stroke-width="1.2" />
<line x1="539.80" y1="546.82" x2="545.40" y2="546.82" stroke="#d070b8" stroke-width="1.2" />
<line x1="539.80" y1="541.78" x2="545.40" y2="541.78" stroke="#d070b8" stroke-width="1.2" />
<polygon points="542.60,547.75 539.30,542.00 545.90,542.00" fill="#d070b8"/>
<line x1="565.70" y1="538.84" x2="565.70" y2="532.40" stroke="#d070b8" stroke-width="1.2" />
<line x1="562.90" y1="538.84" x2="568.50" y2="538.84" stroke="#d070b8" stroke-width="1.2" />
<line x1="562.90" y1="532.40" x2="568.50" y2="532.40" stroke="#d070b8" stroke-width="1.2" />
<polygon points="565.70,539.07 562.40,533.32 569.00,533.32" fill="#d070b8"/>
<line x1="588.80" y1="533.66" x2="588.80" y2="526.38" stroke="#d070b8" stroke-width="1.2" />
<line x1="586.00" y1="533.66" x2="591.60" y2="533.66" stroke="#d070b8" stroke-width="1.2" />
<line x1="586.00" y1="526.38" x2="591.60" y2="526.38" stroke="#d070b8" stroke-width="1.2" />
<polygon points="588.80,533.47 585.50,527.72 592.10,527.72" fill="#d070b8"/>
<line x1="611.90" y1="528.48" x2="611.90" y2="520.64" stroke="#d070b8" stroke-width="1.2" />
<line x1="609.10" y1="528.48" x2="614.70" y2="528.48" stroke="#d070b8" stroke-width="1.2" />
<line x1="609.10" y1="520.64" x2="614.70" y2="520.64" stroke="#d070b8" stroke-width="1.2" />
<polygon points="611.90,528.01 608.60,522.26 615.20,522.26" fill="#d070b8"/>
<line x1="635.00" y1="525.12" x2="635.00" y2="516.72" stroke="#d070b8" stroke-width="1.2" />
<line x1="632.20" y1="525.12" x2="637.80" y2="525.12" stroke="#d070b8" stroke-width="1.2" />
<line x1="632.20" y1="516.72" x2="637.80" y2="516.72" stroke="#d070b8" stroke-width="1.2" />
<polygon points="635.00,524.37 631.70,518.62 638.30,518.62" fill="#d070b8"/>
<line x1="658.10" y1="521.90" x2="658.10" y2="514.06" stroke="#d070b8" stroke-width="1.2" />
<line x1="655.30" y1="521.90" x2="660.90" y2="521.90" stroke="#d070b8" stroke-width="1.2" />
<line x1="655.30" y1="514.06" x2="660.90" y2="514.06" stroke="#d070b8" stroke-width="1.2" />
<polygon points="658.10,521.43 654.80,515.68 661.40,515.68" fill="#d070b8"/>
<polyline points="500.23,573.14 519.50,569.64 542.60,567.12 565.70,565.16 588.80,562.92 611.90,560.96 635.00,558.86 658.10,557.46" fill="none" stroke="#2c5bb5" stroke-width="1.4" stroke-linejoin="round" />
<polygon points="500.23,569.69 496.93,575.44 503.53,575.44" fill="#2c5bb5"/>
<polygon points="519.50,566.19 516.20,571.94 522.80,571.94" fill="#2c5bb5"/>
<polygon points="542.60,563.67 539.30,569.42 545.90,569.42" fill="#2c5bb5"/>
<polygon points="565.70,561.71 562.40,567.46 569.00,567.46" fill="#2c5bb5"/>
<polygon points="588.80,559.47 585.50,565.22 592.10,565.22" fill="#2c5bb5"/>
<polygon points="611.90,557.51 608.60,563.26 615.20,563.26" fill="#2c5bb5"/>
<polygon points="635.00,555.41 631.70,561.16 638.30,561.16" fill="#2c5bb5"/>
<polygon points="658.10,554.01 654.80,559.76 661.40,559.76" fill="#2c5bb5"/>
<polyline points="500.23,591.76 519.50,589.80 542.60,587.98 565.70,585.46 588.80,583.78 611.90,582.38 635.00,580.56 658.10,579.30" fill="none" stroke="#e0322e" stroke-width="1.4" stroke-linejoin="round" />
<rect x="497.23" y="588.76" width="6.00" height="6.00" fill="#e0322e"/>
<rect x="516.50" y="586.80" width="6.00" height="6.00" fill="#e0322e"/>
<rect x="539.60" y="584.98" width="6.00" height="6.00" fill="#e0322e"/>
<rect x="562.70" y="582.46" width="6.00" height="6.00" fill="#e0322e"/>
<rect x="585.80" y="580.78" width="6.00" height="6.00" fill="#e0322e"/>
<rect x="608.90" y="579.38" width="6.00" height="6.00" fill="#e0322e"/>
<rect x="632.00" y="577.56" width="6.00" height="6.00" fill="#e0322e"/>
<rect x="655.10" y="576.30" width="6.00" height="6.00" fill="#e0322e"/>
<polyline points="500.23,592.74 519.50,594.00 542.60,593.58 565.70,592.74 588.80,591.76 611.90,591.06 635.00,590.64 658.10,590.64" fill="none" stroke="#111111" stroke-width="1.4" stroke-linejoin="round" />
<circle cx="500.23" cy="592.74" r="3.00" fill="#111111" stroke="none" stroke-width="0"/>
<circle cx="519.50" cy="594.00" r="3.00" fill="#111111" stroke="none" stroke-width="0"/>
<circle cx="542.60" cy="593.58" r="3.00" fill="#111111" stroke="none" stroke-width="0"/>
<circle cx="565.70" cy="592.74" r="3.00" fill="#111111" stroke="none" stroke-width="0"/>
<circle cx="588.80" cy="591.76" r="3.00" fill="#111111" stroke="none" stroke-width="0"/>
<circle cx="611.90" cy="591.06" r="3.00" fill="#111111" stroke="none" stroke-width="0"/>
<circle cx="635.00" cy="590.64" r="3.00" fill="#111111" stroke="none" stroke-width="0"/>
<circle cx="658.10" cy="590.64" r="3.00" fill="#111111" stroke="none" stroke-width="0"/>
<line x1="502.70" y1="463.80" x2="516.30" y2="463.80" stroke="#111111" stroke-width="1.4" />
<circle cx="509.50" cy="463.80" r="3.00" fill="#111111" stroke="none" stroke-width="0"/>
<text x="523.90" y="467.10" font-size="9.3" font-weight="bold" text-anchor="start" fill="#151515" >Control</text>
<line x1="502.70" y1="478.60" x2="516.30" y2="478.60" stroke="#e0322e" stroke-width="1.4" />
<rect x="506.70" y="475.80" width="5.60" height="5.60" fill="#e0322e"/>
<text x="523.90" y="481.90" font-size="9.3" font-weight="bold" text-anchor="start" fill="#151515" >4 μg/mL</text>
<line x1="502.70" y1="493.60" x2="516.30" y2="493.60" stroke="#2c5bb5" stroke-width="1.4" />
<polygon points="509.50,490.15 506.20,495.90 512.80,495.90" fill="#2c5bb5"/>
<text x="523.90" y="496.90" font-size="9.3" font-weight="bold" text-anchor="start" fill="#151515" >8 μg/mL</text>
<line x1="582.30" y1="463.80" x2="595.90" y2="463.80" stroke="#d070b8" stroke-width="1.4" />
<polygon points="589.10,467.25 585.80,461.50 592.40,461.50" fill="#d070b8"/>
<text x="603.50" y="467.10" font-size="9.3" font-weight="bold" text-anchor="start" fill="#151515" >16 μg/mL</text>
<line x1="582.30" y1="478.60" x2="595.90" y2="478.60" stroke="#3bb23f" stroke-width="1.4" />
<polygon points="589.10,475.30 592.40,478.60 589.10,481.90 585.80,478.60" fill="#3bb23f"/>
<text x="603.50" y="481.90" font-size="9.3" font-weight="bold" text-anchor="start" fill="#151515" >32 μg/mL</text>
<text x="589.20" y="629.30" font-size="9.5" font-weight="bold" text-anchor="middle" fill="#151515" >Time (h)</text>
<text transform="translate(470.80,526.60) rotate(-90)" font-size="9.3" font-weight="bold" text-anchor="middle" fill="#151515">Scavenging Efficiency (%)</text>
<line x1="40.70" y1="469.30" x2="50.40" y2="464.00" stroke="#2a2a2a" stroke-width="1.0" />
<line x1="50.40" y1="464.00" x2="60.70" y2="468.30" stroke="#2a2a2a" stroke-width="1.0" />
<line x1="60.70" y1="468.30" x2="60.70" y2="480.00" stroke="#2a2a2a" stroke-width="1.0" />
<line x1="60.70" y1="480.00" x2="50.40" y2="485.70" stroke="#2a2a2a" stroke-width="1.0" />
<line x1="50.40" y1="485.70" x2="40.70" y2="480.00" stroke="#2a2a2a" stroke-width="1.0" />
<line x1="40.70" y1="480.00" x2="40.70" y2="469.30" stroke="#2a2a2a" stroke-width="1.0" />
<line x1="42.30" y1="477.84" x2="42.30" y2="471.42" stroke="#2a2a2a" stroke-width="1.0" />
<line x1="51.65" y1="466.24" x2="57.83" y2="468.82" stroke="#2a2a2a" stroke-width="1.0" />
<line x1="57.82" y1="479.77" x2="51.64" y2="483.19" stroke="#2a2a2a" stroke-width="1.0" />
<line x1="40.70" y1="469.30" x2="34.60" y2="466.30" stroke="#2a2a2a" stroke-width="1.0" />
<text x="33.90" y="466.00" font-size="6.5" font-weight="bold" text-anchor="end" fill="#111">O<tspan font-size="4.6" dy="1.5">3</tspan><tspan dy="-1.5">S</tspan></text>
<text x="20.30" y="461.50" font-size="6.0" font-weight="bold" text-anchor="middle" fill="#111">-</text>
<text x="24.00" y="450.20" font-size="6.5" font-weight="bold" text-anchor="start" fill="#111">NH<tspan font-size="4.6" dy="1.5">4</tspan></text>
<text x="37.20" y="446.00" font-size="5.6" font-weight="bold" text-anchor="middle" fill="#111">+</text>
<line x1="60.70" y1="468.30" x2="68.20" y2="466.20" stroke="#2a2a2a" stroke-width="1.0" />
<line x1="73.00" y1="467.30" x2="77.50" y2="474.40" stroke="#2a2a2a" stroke-width="1.0" />
<line x1="77.50" y1="474.40" x2="73.20" y2="480.60" stroke="#2a2a2a" stroke-width="1.0" />
<line x1="68.20" y1="482.40" x2="60.70" y2="480.00" stroke="#2a2a2a" stroke-width="1.0" />
<text x="70.90" y="467.60" font-size="6.5" font-weight="bold" text-anchor="middle" fill="#111">S</text>
<text x="70.90" y="486.00" font-size="6.5" font-weight="bold" text-anchor="middle" fill="#111">N</text>
<line x1="71.90" y1="487.50" x2="72.90" y2="490.60" stroke="#2a2a2a" stroke-width="1.0" />
<text x="72.30" y="496.80" font-size="6.5" font-weight="bold" text-anchor="start" fill="#111">C<tspan font-size="4.6" dy="1.5">2</tspan><tspan dy="-1.5">H</tspan><tspan font-size="4.6" dy="1.5">5</tspan></text>
<line x1="77.50" y1="473.60" x2="86.80" y2="473.60" stroke="#2a2a2a" stroke-width="1.0" />
<line x1="77.50" y1="475.20" x2="86.80" y2="475.20" stroke="#2a2a2a" stroke-width="1.0" />
<text x="88.80" y="476.60" font-size="6.5" font-weight="bold" text-anchor="middle" fill="#111">N</text>
<line x1="90.30" y1="471.40" x2="92.30" y2="467.80" stroke="#2a2a2a" stroke-width="1.0" />
<text x="94.00" y="467.20" font-size="6.5" font-weight="bold" text-anchor="middle" fill="#111">N</text>
<line x1="96.20" y1="464.20" x2="105.50" y2="464.20" stroke="#2a2a2a" stroke-width="1.0" />
<line x1="96.20" y1="465.60" x2="105.50" y2="465.60" stroke="#2a2a2a" stroke-width="1.0" />
<line x1="105.50" y1="464.80" x2="109.40" y2="459.40" stroke="#2a2a2a" stroke-width="1.0" />
<line x1="105.50" y1="464.80" x2="109.40" y2="471.40" stroke="#2a2a2a" stroke-width="1.0" />
<text x="111.00" y="458.50" font-size="6.5" font-weight="bold" text-anchor="middle" fill="#111">N</text>
<text x="111.50" y="476.50" font-size="6.5" font-weight="bold" text-anchor="middle" fill="#111">S</text>
<line x1="123.00" y1="459.40" x2="131.80" y2="454.40" stroke="#2a2a2a" stroke-width="1.0" />
<line x1="131.80" y1="454.40" x2="141.70" y2="459.90" stroke="#2a2a2a" stroke-width="1.0" />
<line x1="141.70" y1="459.90" x2="141.70" y2="470.80" stroke="#2a2a2a" stroke-width="1.0" />
<line x1="141.70" y1="470.80" x2="131.80" y2="476.30" stroke="#2a2a2a" stroke-width="1.0" />
<line x1="131.80" y1="476.30" x2="123.00" y2="470.80" stroke="#2a2a2a" stroke-width="1.0" />
<line x1="123.00" y1="470.80" x2="123.00" y2="459.40" stroke="#2a2a2a" stroke-width="1.0" />
<line x1="124.60" y1="468.55" x2="124.60" y2="461.71" stroke="#2a2a2a" stroke-width="1.0" />
<line x1="132.99" y1="456.89" x2="138.93" y2="460.19" stroke="#2a2a2a" stroke-width="1.0" />
<line x1="138.95" y1="470.50" x2="133.01" y2="473.80" stroke="#2a2a2a" stroke-width="1.0" />
<line x1="113.70" y1="458.30" x2="123.00" y2="459.40" stroke="#2a2a2a" stroke-width="1.0" />
<line x1="114.30" y1="473.00" x2="123.00" y2="470.80" stroke="#2a2a2a" stroke-width="1.0" />
<line x1="110.40" y1="453.90" x2="109.40" y2="449.80" stroke="#2a2a2a" stroke-width="1.0" />
<text x="100.00" y="448.40" font-size="6.5" font-weight="bold" text-anchor="start" fill="#111">C<tspan font-size="4.6" dy="1.5">2</tspan><tspan dy="-1.5">H</tspan><tspan font-size="4.6" dy="1.5">5</tspan></text>
<line x1="141.70" y1="470.80" x2="148.20" y2="473.60" stroke="#2a2a2a" stroke-width="1.0" />
<text x="148.60" y="478.00" font-size="6.5" font-weight="bold" text-anchor="start" fill="#111">SO<tspan font-size="4.6" dy="1.5">3</tspan></text>
<text x="161.60" y="473.60" font-size="6.0" font-weight="bold" text-anchor="middle" fill="#111">-</text>
<text x="163.60" y="464.80" font-size="6.5" font-weight="bold" text-anchor="start" fill="#111">NH<tspan font-size="4.6" dy="1.5">4</tspan></text>
<text x="176.80" y="460.40" font-size="5.6" font-weight="bold" text-anchor="middle" fill="#111">+</text>
<line x1="40.70" y1="578.80" x2="50.40" y2="573.50" stroke="#2a2a2a" stroke-width="1.0" />
<line x1="50.40" y1="573.50" x2="60.70" y2="577.80" stroke="#2a2a2a" stroke-width="1.0" />
<line x1="60.70" y1="577.80" x2="60.70" y2="589.50" stroke="#2a2a2a" stroke-width="1.0" />
<line x1="60.70" y1="589.50" x2="50.40" y2="595.20" stroke="#2a2a2a" stroke-width="1.0" />
<line x1="50.40" y1="595.20" x2="40.70" y2="589.50" stroke="#2a2a2a" stroke-width="1.0" />
<line x1="40.70" y1="589.50" x2="40.70" y2="578.80" stroke="#2a2a2a" stroke-width="1.0" />
<line x1="42.30" y1="587.34" x2="42.30" y2="580.92" stroke="#2a2a2a" stroke-width="1.0" />
<line x1="51.65" y1="575.74" x2="57.83" y2="578.32" stroke="#2a2a2a" stroke-width="1.0" />
<line x1="57.82" y1="589.27" x2="51.64" y2="592.69" stroke="#2a2a2a" stroke-width="1.0" />
<line x1="40.70" y1="578.80" x2="34.60" y2="575.80" stroke="#2a2a2a" stroke-width="1.0" />
<text x="33.90" y="575.50" font-size="6.5" font-weight="bold" text-anchor="end" fill="#111">O<tspan font-size="4.6" dy="1.5">3</tspan><tspan dy="-1.5">S</tspan></text>
<text x="20.30" y="571.00" font-size="6.0" font-weight="bold" text-anchor="middle" fill="#111">-</text>
<text x="24.00" y="559.70" font-size="6.5" font-weight="bold" text-anchor="start" fill="#111">NH<tspan font-size="4.6" dy="1.5">4</tspan></text>
<text x="37.20" y="555.50" font-size="5.6" font-weight="bold" text-anchor="middle" fill="#111">+</text>
<line x1="60.70" y1="577.80" x2="68.20" y2="575.70" stroke="#2a2a2a" stroke-width="1.0" />
<line x1="73.00" y1="576.80" x2="77.50" y2="583.90" stroke="#2a2a2a" stroke-width="1.0" />
<line x1="77.50" y1="583.90" x2="73.20" y2="590.10" stroke="#2a2a2a" stroke-width="1.0" />
<line x1="68.20" y1="591.90" x2="60.70" y2="589.50" stroke="#2a2a2a" stroke-width="1.0" />
<text x="70.90" y="577.10" font-size="6.5" font-weight="bold" text-anchor="middle" fill="#111">S</text>
<text x="70.90" y="595.50" font-size="6.5" font-weight="bold" text-anchor="middle" fill="#111">N</text>
<text x="78.40" y="594.00" font-size="8.6" font-weight="bold" text-anchor="middle" fill="#e02020">+</text>
<circle cx="82.40" cy="591.00" r="0.8" fill="#e02020"/>
<line x1="71.90" y1="597.00" x2="72.90" y2="600.10" stroke="#2a2a2a" stroke-width="1.0" />
<text x="72.30" y="606.30" font-size="6.5" font-weight="bold" text-anchor="start" fill="#111">C<tspan font-size="4.6" dy="1.5">2</tspan><tspan dy="-1.5">H</tspan><tspan font-size="4.6" dy="1.5">5</tspan></text>
<line x1="77.50" y1="583.10" x2="86.80" y2="583.10" stroke="#2a2a2a" stroke-width="1.0" />
<line x1="77.50" y1="584.70" x2="86.80" y2="584.70" stroke="#2a2a2a" stroke-width="1.0" />
<text x="88.80" y="586.10" font-size="6.5" font-weight="bold" text-anchor="middle" fill="#111">N</text>
<line x1="90.30" y1="580.90" x2="92.30" y2="577.30" stroke="#2a2a2a" stroke-width="1.0" />
<text x="94.00" y="576.70" font-size="6.5" font-weight="bold" text-anchor="middle" fill="#111">N</text>
<line x1="96.20" y1="574.50" x2="105.50" y2="574.30" stroke="#9a9a9a" stroke-width="2.6" />
<line x1="105.50" y1="574.30" x2="109.40" y2="568.90" stroke="#2a2a2a" stroke-width="1.0" />
<line x1="105.50" y1="574.30" x2="109.40" y2="580.90" stroke="#2a2a2a" stroke-width="1.0" />
<text x="111.00" y="568.00" font-size="6.5" font-weight="bold" text-anchor="middle" fill="#111">N</text>
<text x="111.50" y="586.00" font-size="6.5" font-weight="bold" text-anchor="middle" fill="#111">S</text>
<line x1="123.00" y1="568.90" x2="131.80" y2="563.90" stroke="#2a2a2a" stroke-width="1.0" />
<line x1="131.80" y1="563.90" x2="141.70" y2="569.40" stroke="#2a2a2a" stroke-width="1.0" />
<line x1="141.70" y1="569.40" x2="141.70" y2="580.30" stroke="#2a2a2a" stroke-width="1.0" />
<line x1="141.70" y1="580.30" x2="131.80" y2="585.80" stroke="#2a2a2a" stroke-width="1.0" />
<line x1="131.80" y1="585.80" x2="123.00" y2="580.30" stroke="#2a2a2a" stroke-width="1.0" />
<line x1="123.00" y1="580.30" x2="123.00" y2="568.90" stroke="#2a2a2a" stroke-width="1.0" />
<line x1="124.60" y1="578.05" x2="124.60" y2="571.21" stroke="#2a2a2a" stroke-width="1.0" />
<line x1="132.99" y1="566.39" x2="138.93" y2="569.69" stroke="#2a2a2a" stroke-width="1.0" />
<line x1="138.95" y1="580.00" x2="133.01" y2="583.30" stroke="#2a2a2a" stroke-width="1.0" />
<line x1="113.70" y1="567.80" x2="123.00" y2="568.90" stroke="#2a2a2a" stroke-width="1.0" />
<line x1="114.30" y1="582.50" x2="123.00" y2="580.30" stroke="#2a2a2a" stroke-width="1.0" />
<line x1="110.40" y1="563.40" x2="109.40" y2="559.30" stroke="#2a2a2a" stroke-width="1.0" />
<text x="100.00" y="557.90" font-size="6.5" font-weight="bold" text-anchor="start" fill="#111">C<tspan font-size="4.6" dy="1.5">2</tspan><tspan dy="-1.5">H</tspan><tspan font-size="4.6" dy="1.5">5</tspan></text>
<line x1="141.70" y1="580.30" x2="148.20" y2="583.10" stroke="#2a2a2a" stroke-width="1.0" />
<text x="148.60" y="587.50" font-size="6.5" font-weight="bold" text-anchor="start" fill="#111">SO<tspan font-size="4.6" dy="1.5">3</tspan></text>
<text x="161.60" y="583.10" font-size="6.0" font-weight="bold" text-anchor="middle" fill="#111">-</text>
<text x="163.60" y="574.30" font-size="6.5" font-weight="bold" text-anchor="start" fill="#111">NH<tspan font-size="4.6" dy="1.5">4</tspan></text>
<text x="176.80" y="569.90" font-size="5.6" font-weight="bold" text-anchor="middle" fill="#111">+</text>
<text x="183.00" y="476.60" font-size="9.4" font-weight="bold" text-anchor="start" fill="#333" >ABTS</text>
<text x="182.40" y="587.00" font-size="9.4" font-weight="bold" text-anchor="start" fill="#2aa84a" >ABTS<tspan font-size="6.5" dy="-3.6">•+</tspan></text>
<line x1="91.70" y1="512.00" x2="91.70" y2="538.40" stroke="#777" stroke-width="1.1" />
<polygon points="91.7,508.8 89.9,513.6 93.5,513.6" fill="#555"/>
<line x1="97.80" y1="509.20" x2="97.80" y2="535.80" stroke="#222" stroke-width="1.1" />
<polygon points="97.8,539.2 96.0,534.4 99.6,534.4" fill="#222"/>
<text x="55.30" y="523.50" font-size="8.3" font-weight="bold" text-anchor="start" fill="#222" font-style="italic" >K<tspan font-size="6.0" dy="1.6">2</tspan><tspan dy="-1.6">S</tspan><tspan font-size="6.0" dy="1.6">2</tspan><tspan dy="-1.6">O</tspan><tspan font-size="6.0" dy="1.6">8</tspan></text>
<text x="105.60" y="525.50" font-size="9.9" font-weight="bold" text-anchor="start" fill="#dc2a2a" font-style="italic" >“Antioxidant”</text>
</svg>
</body></html>
